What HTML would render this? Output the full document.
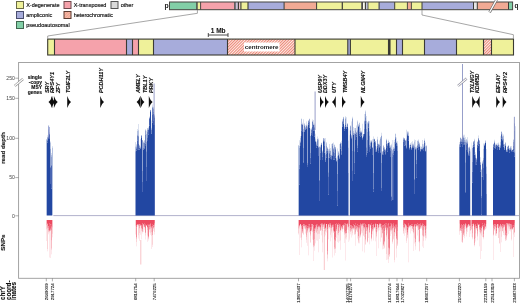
<!DOCTYPE html><html><head><meta charset="utf-8"><style>html,body{margin:0;padding:0;background:#fff;width:520px;height:303px;overflow:hidden}</style></head><body><svg xmlns="http://www.w3.org/2000/svg" width="520" height="303" viewBox="0 0 520 303" style="display:block;font-family:'Liberation Sans', sans-serif"><defs><filter id="bl" x="-5%" y="-5%" width="110%" height="110%"><feGaussianBlur stdDeviation="0.35"/></filter><pattern id="hatch" patternUnits="userSpaceOnUse" width="2" height="4" patternTransform="rotate(45)"><rect width="2" height="4" fill="#fdeae6"/><rect width="0.95" height="4" fill="#ec8472"/></pattern></defs><rect width="520" height="303" fill="#fff"/><filter id="gbl" x="0" y="0" width="100%" height="100%"><feGaussianBlur stdDeviation="0.35"/></filter><g filter="url(#gbl)"><rect width="520" height="303" fill="#fff"/><rect x="16.5" y="1.5" width="7" height="7" fill="#eff19a" stroke="#6b6b45" stroke-width="1"/><text x="26.2" y="7.0" font-size="5.5" fill="#1a1a1a" stroke="#1a1a1a" stroke-width="0.18">X-degenerate</text><rect x="16.5" y="11.5" width="7" height="7" fill="#a7acdb" stroke="#4a4d6e" stroke-width="1"/><text x="26.2" y="17.0" font-size="5.5" fill="#1a1a1a" stroke="#1a1a1a" stroke-width="0.18">ampliconic</text><rect x="16.5" y="21.5" width="7" height="7" fill="#82cfa7" stroke="#3f6650" stroke-width="1"/><text x="26.2" y="27.0" font-size="5.5" fill="#1a1a1a" stroke="#1a1a1a" stroke-width="0.18">pseudoautosomal</text><rect x="64" y="1.5" width="7" height="7" fill="#f5a2ab" stroke="#6e4a4e" stroke-width="1"/><text x="73.7" y="7.0" font-size="5.5" fill="#1a1a1a" stroke="#1a1a1a" stroke-width="0.18">X-transposed</text><rect x="64" y="11.5" width="7" height="7" fill="#f1aa94"/><rect x="64" y="11.5" width="7" height="7" fill="url(#hatch)" fill-opacity="0.3" stroke="#5a3a30" stroke-width="1"/><text x="73.7" y="17.0" font-size="5.5" fill="#1a1a1a" stroke="#1a1a1a" stroke-width="0.18">heterochromatic</text><rect x="111" y="1.5" width="7" height="7" fill="#dadada" stroke="#555" stroke-width="1"/><text x="120.7" y="7.0" font-size="5.5" fill="#1a1a1a" stroke="#1a1a1a" stroke-width="0.18">other</text><rect x="169.5" y="2.0" width="27.30" height="7.70" fill="#82cfa7"/><rect x="196.8" y="2.0" width="0.80" height="7.70" fill="#3a3a34"/><rect x="197.6" y="2.0" width="3.00" height="7.70" fill="#eff19a"/><rect x="200.6" y="2.0" width="33.80" height="7.70" fill="#f5a2ab"/><rect x="234.4" y="2.0" width="3.40" height="7.70" fill="#c8c0d8"/><rect x="237.8" y="2.0" width="2.60" height="7.70" fill="#ecc0c8"/><rect x="240.4" y="2.0" width="7.60" height="7.70" fill="#eff19a"/><rect x="248" y="2.0" width="36.10" height="7.70" fill="#a7acdb"/><rect x="284.1" y="2.0" width="32.50" height="7.70" fill="#f1aa94"/><rect x="316.6" y="2.0" width="25.70" height="7.70" fill="#eff19a"/><rect x="342.3" y="2.0" width="19.00" height="7.70" fill="#eff19a"/><rect x="361.3" y="2.0" width="4.10" height="7.70" fill="#fafaf0"/><rect x="365.4" y="2.0" width="2.60" height="7.70" fill="#c0c4d8"/><rect x="368.0" y="2.0" width="10.80" height="7.70" fill="#eff19a"/><rect x="378.8" y="2.0" width="15.70" height="7.70" fill="#a7acdb"/><rect x="394.5" y="2.0" width="12.90" height="7.70" fill="#eff19a"/><rect x="407.4" y="2.0" width="4.00" height="7.70" fill="#f1aa94"/><rect x="411.4" y="2.0" width="10.60" height="7.70" fill="#eff19a"/><rect x="422" y="2.0" width="51.50" height="7.70" fill="#a7acdb"/><rect x="473.5" y="2.0" width="3.80" height="7.70" fill="#e6e6e6"/><rect x="477.3" y="2.0" width="31.20" height="7.70" fill="#f1aa94"/><rect x="508.5" y="2.0" width="4.00" height="7.70" fill="#82cfa7"/><line x1="196.9" y1="2.0" x2="196.9" y2="9.7" stroke="#3a3a34" stroke-width="1.1"/><line x1="200.6" y1="2.0" x2="200.6" y2="9.7" stroke="#3a3a34" stroke-width="0.9"/><line x1="234.9" y1="2.0" x2="234.9" y2="9.7" stroke="#3a3a34" stroke-width="1.3"/><line x1="238.4" y1="2.0" x2="238.4" y2="9.7" stroke="#3a3a34" stroke-width="1.2"/><line x1="240.9" y1="2.0" x2="240.9" y2="9.7" stroke="#3a3a34" stroke-width="1.1"/><line x1="248" y1="2.0" x2="248" y2="9.7" stroke="#3a3a34" stroke-width="1.1"/><line x1="284.1" y1="2.0" x2="284.1" y2="9.7" stroke="#3a3a34" stroke-width="1"/><line x1="316.6" y1="2.0" x2="316.6" y2="9.7" stroke="#3a3a34" stroke-width="1"/><line x1="342.3" y1="2.0" x2="342.3" y2="9.7" stroke="#3a3a34" stroke-width="1.2"/><line x1="362.1" y1="2.0" x2="362.1" y2="9.7" stroke="#3a3a34" stroke-width="1.6"/><line x1="365.4" y1="2.0" x2="365.4" y2="9.7" stroke="#3a3a34" stroke-width="1.1"/><line x1="368.0" y1="2.0" x2="368.0" y2="9.7" stroke="#3a3a34" stroke-width="0.8"/><line x1="379.1" y1="2.0" x2="379.1" y2="9.7" stroke="#3a3a34" stroke-width="1.0"/><line x1="394.7" y1="2.0" x2="394.7" y2="9.7" stroke="#3a3a34" stroke-width="1.0"/><line x1="407.4" y1="2.0" x2="407.4" y2="9.7" stroke="#3a3a34" stroke-width="0.9"/><line x1="411.4" y1="2.0" x2="411.4" y2="9.7" stroke="#3a3a34" stroke-width="0.9"/><line x1="422" y1="2.0" x2="422" y2="9.7" stroke="#3a3a34" stroke-width="1"/><line x1="473.5" y1="2.0" x2="473.5" y2="9.7" stroke="#3a3a34" stroke-width="1"/><line x1="477.3" y1="2.0" x2="477.3" y2="9.7" stroke="#3a3a34" stroke-width="1"/><line x1="508.5" y1="2.0" x2="508.5" y2="9.7" stroke="#3a3a34" stroke-width="1"/><rect x="169.5" y="2.0" width="343.1" height="7.70" fill="none" stroke="#454540" stroke-width="1"/><path d="M489.6,12.3 L496.6,-0.4" stroke="#666" stroke-width="2.6"/><path d="M489.6,12.3 L496.6,-0.4" stroke="#fff" stroke-width="1.3"/><text x="164.6" y="8.0" font-size="6.8" font-weight="bold" fill="#222">p</text><text x="514.5" y="7.9" font-size="6.4" font-weight="bold" fill="#222">q</text><polyline points="197.4,10 197.4,13.3 47.7,36 47.7,38.5" fill="none" stroke="#8a8a8a" stroke-width="0.75"/><polyline points="422,10 422,15 513.4,34.7 513.4,38.5" fill="none" stroke="#8a8a8a" stroke-width="0.75"/><rect x="47.7" y="39.1" width="6.80" height="15.90" fill="#eff19a"/><rect x="54.5" y="39.1" width="72.00" height="15.90" fill="#f5a2ab"/><rect x="126.5" y="39.1" width="6.00" height="15.90" fill="#a7acdb"/><rect x="132.5" y="39.1" width="6.00" height="15.90" fill="#f5a2ab"/><rect x="138.5" y="39.1" width="15.00" height="15.90" fill="#eff19a"/><rect x="153.5" y="39.1" width="74.00" height="15.90" fill="#a7acdb"/><rect x="227.5" y="39.1" width="67.50" height="15.90" fill="url(#hatch)"/><rect x="295" y="39.1" width="52.80" height="15.90" fill="#eff19a"/><rect x="347.8" y="39.1" width="2.60" height="15.90" fill="#a7acdb"/><rect x="350.4" y="39.1" width="38.10" height="15.90" fill="#eff19a"/><rect x="388.5" y="39.1" width="1.50" height="15.90" fill="#3a3a34"/><rect x="390" y="39.1" width="6.50" height="15.90" fill="#eff19a"/><rect x="396.5" y="39.1" width="6.00" height="15.90" fill="#a7acdb"/><rect x="402.5" y="39.1" width="22.00" height="15.90" fill="#eff19a"/><rect x="424.5" y="39.1" width="32.00" height="15.90" fill="#a7acdb"/><rect x="456.5" y="39.1" width="27.00" height="15.90" fill="#eff19a"/><rect x="483.5" y="39.1" width="8.00" height="15.90" fill="url(#hatch)"/><rect x="491.5" y="39.1" width="22.00" height="15.90" fill="#eff19a"/><line x1="54.5" y1="39.1" x2="54.5" y2="55.0" stroke="#3a3a34" stroke-width="1.1"/><line x1="126.5" y1="39.1" x2="126.5" y2="55.0" stroke="#3a3a34" stroke-width="1.1"/><line x1="132.5" y1="39.1" x2="132.5" y2="55.0" stroke="#3a3a34" stroke-width="1.1"/><line x1="138.5" y1="39.1" x2="138.5" y2="55.0" stroke="#3a3a34" stroke-width="1.1"/><line x1="153.5" y1="39.1" x2="153.5" y2="55.0" stroke="#3a3a34" stroke-width="1.1"/><line x1="227.5" y1="39.1" x2="227.5" y2="55.0" stroke="#3a3a34" stroke-width="1.1"/><line x1="295" y1="39.1" x2="295" y2="55.0" stroke="#3a3a34" stroke-width="1.1"/><line x1="347.8" y1="39.1" x2="347.8" y2="55.0" stroke="#3a3a34" stroke-width="1.1"/><line x1="350.4" y1="39.1" x2="350.4" y2="55.0" stroke="#3a3a34" stroke-width="1.1"/><line x1="388.5" y1="39.1" x2="388.5" y2="55.0" stroke="#3a3a34" stroke-width="1.1"/><line x1="390" y1="39.1" x2="390" y2="55.0" stroke="#3a3a34" stroke-width="1.1"/><line x1="396.5" y1="39.1" x2="396.5" y2="55.0" stroke="#3a3a34" stroke-width="1.1"/><line x1="402.5" y1="39.1" x2="402.5" y2="55.0" stroke="#3a3a34" stroke-width="1.1"/><line x1="424.5" y1="39.1" x2="424.5" y2="55.0" stroke="#3a3a34" stroke-width="1.1"/><line x1="456.5" y1="39.1" x2="456.5" y2="55.0" stroke="#3a3a34" stroke-width="1.1"/><line x1="483.5" y1="39.1" x2="483.5" y2="55.0" stroke="#3a3a34" stroke-width="1.1"/><line x1="491.5" y1="39.1" x2="491.5" y2="55.0" stroke="#3a3a34" stroke-width="1.1"/><rect x="47.7" y="39.1" width="465.8" height="15.90" fill="none" stroke="#3a3a30" stroke-width="1.1"/><rect x="244" y="42.5" width="35.5" height="9" fill="#fff"/><text x="261.7" y="49.4" font-size="6.2" font-weight="bold" text-anchor="middle" fill="#222">centromere</text><path d="M208.3,35 H228 M208.3,33 V37 M228,33 V37" stroke="#222" stroke-width="0.8" fill="none"/><text x="218.2" y="32.9" font-size="6.5" font-weight="bold" text-anchor="middle" fill="#1a1a1a" stroke="#1a1a1a" stroke-width="0.1">1 Mb</text><rect x="18.6" y="62.5" width="500.9" height="215.8" fill="none" stroke="#9a9a9a" stroke-width="0.9"/><line x1="15.3" y1="78.2" x2="18.6" y2="78.2" stroke="#777" stroke-width="0.6"/><text x="14.8" y="80.0" font-size="5.1" text-anchor="end" fill="#444">250</text><line x1="15.3" y1="98.3" x2="18.6" y2="98.3" stroke="#777" stroke-width="0.6"/><text x="14.8" y="100.1" font-size="5.1" text-anchor="end" fill="#444">150</text><line x1="15.3" y1="138.3" x2="18.6" y2="138.3" stroke="#777" stroke-width="0.6"/><text x="14.8" y="140.10000000000002" font-size="5.1" text-anchor="end" fill="#444">100</text><line x1="15.3" y1="177.6" x2="18.6" y2="177.6" stroke="#777" stroke-width="0.6"/><text x="14.8" y="179.4" font-size="5.1" text-anchor="end" fill="#444">50</text><line x1="15.3" y1="215.8" x2="18.6" y2="215.8" stroke="#777" stroke-width="0.6"/><text x="14.8" y="217.60000000000002" font-size="5.1" text-anchor="end" fill="#444">0</text><path d="M14.8,85.8 L23,79" stroke="#888" stroke-width="2.4"/><path d="M14.8,85.8 L23,79" stroke="#fff" stroke-width="1.2"/><text transform="translate(5.1,148) rotate(-90)" font-size="6.2" font-weight="bold" text-anchor="middle" fill="#1a1a1a" stroke="#1a1a1a" stroke-width="0.15">read depth</text><text transform="translate(5.1,242.6) rotate(-90)" font-size="6.2" font-weight="bold" text-anchor="middle" fill="#1a1a1a" stroke="#1a1a1a" stroke-width="0.15">SNPs</text><text transform="translate(4.90,300.1) rotate(-90)" font-size="6.3" font-weight="bold" fill="#111" stroke="#111" stroke-width="0.12">chrY</text><text transform="translate(10.65,300.1) rotate(-90)" font-size="6.3" font-weight="bold" fill="#111" stroke="#111" stroke-width="0.12">coord-</text><text transform="translate(16.40,300.1) rotate(-90)" font-size="6.3" font-weight="bold" fill="#111" stroke="#111" stroke-width="0.12">inates</text><text x="42" y="78.8" font-size="4.95" font-weight="bold" text-anchor="end" fill="#111" stroke="#111" stroke-width="0.14">single</text><text x="42" y="84.1" font-size="4.95" font-weight="bold" text-anchor="end" fill="#111" stroke="#111" stroke-width="0.14">-copy</text><text x="42" y="88.9" font-size="4.95" font-weight="bold" text-anchor="end" fill="#111" stroke="#111" stroke-width="0.14">MSY</text><text x="42" y="93.8" font-size="4.95" font-weight="bold" text-anchor="end" fill="#111" stroke="#111" stroke-width="0.14">genes</text><text transform="translate(49.00,93.1) rotate(-90)" font-size="5.5" font-weight="bold" font-style="italic" fill="#111" stroke="#111" stroke-width="0.12">SRY</text><text transform="translate(54.30,93.1) rotate(-90)" font-size="5.5" font-weight="bold" font-style="italic" fill="#111" stroke="#111" stroke-width="0.12">RPS4Y1</text><text transform="translate(59.60,93.1) rotate(-90)" font-size="5.5" font-weight="bold" font-style="italic" fill="#111" stroke="#111" stroke-width="0.12">ZFY</text><text transform="translate(70.10,93.1) rotate(-90)" font-size="5.5" font-weight="bold" font-style="italic" fill="#111" stroke="#111" stroke-width="0.12">TGIF2LY</text><text transform="translate(103.20,93.1) rotate(-90)" font-size="5.5" font-weight="bold" font-style="italic" fill="#111" stroke="#111" stroke-width="0.12">PCDH11Y</text><text transform="translate(139.90,93.1) rotate(-90)" font-size="5.5" font-weight="bold" font-style="italic" fill="#111" stroke="#111" stroke-width="0.12">AMELY</text><text transform="translate(146.60,93.1) rotate(-90)" font-size="5.5" font-weight="bold" font-style="italic" fill="#111" stroke="#111" stroke-width="0.12">TBL1Y</text><text transform="translate(152.60,93.1) rotate(-90)" font-size="5.5" font-weight="bold" font-style="italic" fill="#111" stroke="#111" stroke-width="0.12">PRKY</text><text transform="translate(322.00,93.1) rotate(-90)" font-size="5.5" font-weight="bold" font-style="italic" fill="#111" stroke="#111" stroke-width="0.12">USP9Y</text><text transform="translate(327.40,93.1) rotate(-90)" font-size="5.5" font-weight="bold" font-style="italic" fill="#111" stroke="#111" stroke-width="0.12">DDX3Y</text><text transform="translate(336.30,93.1) rotate(-90)" font-size="5.5" font-weight="bold" font-style="italic" fill="#111" stroke="#111" stroke-width="0.12">UTY</text><text transform="translate(346.70,93.1) rotate(-90)" font-size="5.5" font-weight="bold" font-style="italic" fill="#111" stroke="#111" stroke-width="0.12">TMSB4Y</text><text transform="translate(364.80,93.1) rotate(-90)" font-size="5.5" font-weight="bold" font-style="italic" fill="#111" stroke="#111" stroke-width="0.12">NLGN4Y</text><text transform="translate(474.40,93.1) rotate(-90)" font-size="5.5" font-weight="bold" font-style="italic" fill="#111" stroke="#111" stroke-width="0.12">TXLNGY</text><text transform="translate(479.00,93.1) rotate(-90)" font-size="5.5" font-weight="bold" font-style="italic" fill="#111" stroke="#111" stroke-width="0.12">KDM5D</text><text transform="translate(499.70,93.1) rotate(-90)" font-size="5.5" font-weight="bold" font-style="italic" fill="#111" stroke="#111" stroke-width="0.12">EIF1AY</text><text transform="translate(506.70,93.1) rotate(-90)" font-size="5.5" font-weight="bold" font-style="italic" fill="#111" stroke="#111" stroke-width="0.12">RPS4Y2</text><path d="M52.3,96.1 Q50.97,100.23 48.5,102 Q50.97,103.77 52.3,107.9Z" fill="#111"/><path d="M51.5,96.1 Q52.83,100.23 55.3,102 Q52.83,103.77 51.5,107.9Z" fill="#111"/><path d="M53.9,96.1 Q55.23,100.23 57.699999999999996,102 Q55.23,103.77 53.9,107.9Z" fill="#111"/><path d="M67.2,96.1 Q68.53,100.23 71.0,102 Q68.53,103.77 67.2,107.9Z" fill="#111"/><path d="M100.2,96.1 Q101.53,100.23 104.0,102 Q101.53,103.77 100.2,107.9Z" fill="#111"/><path d="M140.4,96.1 Q139.07,100.23 136.6,102 Q139.07,103.77 140.4,107.9Z" fill="#111"/><path d="M140.6,96.1 Q141.93,100.23 144.4,102 Q141.93,103.77 140.6,107.9Z" fill="#111"/><path d="M148.8,96.1 Q150.13,100.23 152.60000000000002,102 Q150.13,103.77 148.8,107.9Z" fill="#111"/><path d="M320,96.1 Q321.33,100.23 323.8,102 Q321.33,103.77 320,107.9Z" fill="#111"/><path d="M325.0,96.1 Q326.33,100.23 328.8,102 Q326.33,103.77 325.0,107.9Z" fill="#111"/><path d="M335.8,96.1 Q334.47,100.23 332.0,102 Q334.47,103.77 335.8,107.9Z" fill="#111"/><path d="M342,96.1 Q343.33,100.23 345.8,102 Q343.33,103.77 342,107.9Z" fill="#111"/><path d="M360.8,96.1 Q362.13,100.23 364.6,102 Q362.13,103.77 360.8,107.9Z" fill="#111"/><path d="M472.2,96.1 Q473.53,100.23 476.0,102 Q473.53,103.77 472.2,107.9Z" fill="#111"/><path d="M479.6,96.1 Q478.27,100.23 475.8,102 Q478.27,103.77 479.6,107.9Z" fill="#111"/><path d="M496.2,96.1 Q497.53,100.23 500.0,102 Q497.53,103.77 496.2,107.9Z" fill="#111"/><path d="M502.7,96.1 Q504.03,100.23 506.5,102 Q504.03,103.77 502.7,107.9Z" fill="#111"/><line x1="53.3" y1="215.6" x2="519" y2="215.6" stroke="#a9a9c6" stroke-width="0.9"/><g filter="url(#bl)"><path d="M46,139.1h1V139.4h-1zM47,135.3h1V137.2h-1zM48,129.4h1V136.0h-1zM49,132.3h1V133.7h-1zM50,141.6h1V142.4h-1zM51,153.1h1V154.9h-1zM52,146.3h1V147.8h-1zM135,141.9h1V146.5h-1zM136,143.9h1V145.3h-1zM137,129.1h1V131.0h-1zM138,124.0h1V130.3h-1zM139,144.8h1V145.3h-1zM140,139.1h1V146.4h-1zM141,134.9h1V134.9h-1zM142,139.9h1V140.1h-1zM143,141.5h1V142.3h-1zM144,140.0h1V140.6h-1zM145,129.1h1V130.1h-1zM146,130.7h1V133.9h-1zM147,127.9h1V128.3h-1zM148,126.7h1V128.2h-1zM149,116.6h1V117.2h-1zM150,109.8h1V109.9h-1zM151,120.6h1V127.7h-1zM152,104.6h1V106.5h-1zM153,107.0h1V108.2h-1zM154,114.2h1V114.9h-1zM298,145.0h1V145.4h-1zM299,140.2h1V145.9h-1zM300,135.9h1V137.9h-1zM301,118.4h1V119.1h-1zM302,122.7h1V124.2h-1zM303,119.3h1V128.9h-1zM304,123.3h1V123.8h-1zM305,125.3h1V127.0h-1zM306,121.6h1V124.8h-1zM307,124.5h1V126.2h-1zM308,119.9h1V120.6h-1zM309,118.7h1V118.7h-1zM310,128.8h1V135.8h-1zM311,127.8h1V128.8h-1zM312,119.4h1V121.1h-1zM313,120.1h1V123.5h-1zM314,123.6h1V125.1h-1zM315,133.7h1V138.5h-1zM316,141.5h1V142.3h-1zM317,136.5h1V138.7h-1zM318,138.5h1V139.6h-1zM319,145.9h1V146.9h-1zM320,144.8h1V146.5h-1zM321,142.6h1V143.0h-1zM322,150.3h1V151.1h-1zM323,137.9h1V138.3h-1zM324,138.5h1V138.5h-1zM325,138.1h1V152.5h-1zM326,142.1h1V143.3h-1zM327,147.1h1V147.7h-1zM328,149.1h1V150.6h-1zM329,144.0h1V148.7h-1zM330,147.9h1V150.6h-1zM331,144.0h1V154.7h-1zM332,143.1h1V143.4h-1zM333,142.4h1V147.9h-1zM334,144.4h1V145.1h-1zM335,146.8h1V147.1h-1zM336,157.4h1V158.4h-1zM337,148.6h1V155.9h-1zM338,151.1h1V151.7h-1zM339,144.1h1V153.5h-1zM340,142.1h1V142.8h-1zM341,140.8h1V143.0h-1zM342,119.3h1V120.4h-1zM343,116.7h1V117.0h-1zM344,125.8h1V126.8h-1zM345,116.2h1V117.5h-1zM346,117.2h1V126.6h-1zM347,123.0h1V123.8h-1zM348,128.6h1V140.4h-1zM349,130.6h1V135.3h-1zM350,125.5h1V125.8h-1zM351,121.5h1V135.0h-1zM352,116.7h1V118.0h-1zM353,126.9h1V131.0h-1zM354,127.9h1V132.7h-1zM355,127.9h1V128.1h-1zM356,125.4h1V131.7h-1zM357,120.4h1V121.5h-1zM358,124.0h1V124.7h-1zM359,122.4h1V123.0h-1zM360,128.1h1V130.8h-1zM361,130.6h1V131.4h-1zM362,123.7h1V137.2h-1zM363,133.9h1V134.1h-1zM364,114.1h1V120.6h-1zM365,110.4h1V111.5h-1zM366,116.0h1V120.7h-1zM367,122.0h1V123.2h-1zM368,120.7h1V121.0h-1zM369,121.3h1V131.3h-1zM370,140.3h1V141.5h-1zM371,140.3h1V140.4h-1zM372,139.3h1V147.0h-1zM373,136.6h1V139.1h-1zM374,138.6h1V138.9h-1zM375,140.9h1V141.0h-1zM376,146.6h1V149.0h-1zM377,136.8h1V139.6h-1zM379,140.4h1V143.7h-1zM380,136.9h1V137.6h-1zM381,132.7h1V135.6h-1zM382,150.9h1V151.4h-1zM383,145.3h1V145.4h-1zM385,149.4h1V149.5h-1zM386,138.8h1V139.6h-1zM387,143.0h1V143.5h-1zM388,139.7h1V141.1h-1zM389,141.9h1V142.0h-1zM390,145.0h1V146.2h-1zM391,143.7h1V145.3h-1zM392,149.5h1V150.0h-1zM393,146.9h1V147.5h-1zM394,140.0h1V142.0h-1zM395,133.5h1V134.0h-1zM396,137.5h1V141.6h-1zM397,141.2h1V143.5h-1zM403,137.4h1V137.8h-1zM404,137.9h1V138.1h-1zM405,140.1h1V140.5h-1zM406,129.7h1V138.5h-1zM407,131.0h1V132.0h-1zM408,131.6h1V132.6h-1zM409,144.8h1V147.2h-1zM410,143.0h1V144.6h-1zM411,142.2h1V147.5h-1zM412,141.3h1V143.8h-1zM413,143.6h1V144.2h-1zM414,139.5h1V141.5h-1zM415,140.0h1V147.0h-1zM416,146.6h1V147.5h-1zM417,140.5h1V141.1h-1zM418,139.4h1V140.5h-1zM419,142.5h1V143.2h-1zM420,146.3h1V148.5h-1zM421,146.5h1V147.0h-1zM422,140.0h1V144.0h-1zM423,144.1h1V145.6h-1zM424,138.6h1V140.0h-1zM425,142.4h1V145.9h-1zM426,145.5h1V145.6h-1zM459,142.0h1V144.1h-1zM460,137.5h1V137.8h-1zM461,138.5h1V138.9h-1zM462,136.3h1V137.8h-1zM463,134.7h1V136.2h-1zM464,134.8h1V138.0h-1zM465,137.2h1V140.3h-1zM466,138.9h1V139.6h-1zM467,137.3h1V140.5h-1zM468,147.3h1V147.7h-1zM470,149.2h1V151.4h-1zM471,142.4h1V215.6h-1zM472,145.4h1V147.8h-1zM473,141.0h1V141.2h-1zM474,138.8h1V139.7h-1zM475,152.2h1V154.4h-1zM476,158.2h1V158.3h-1zM477,141.2h1V141.5h-1zM478,135.4h1V137.9h-1zM479,140.1h1V140.6h-1zM480,157.2h1V162.2h-1zM481,168.9h1V170.1h-1zM482,160.7h1V161.7h-1zM483,143.5h1V148.7h-1zM484,143.2h1V144.2h-1zM485,140.4h1V140.4h-1zM486,149.1h1V166.6h-1zM493,143.8h1V143.8h-1zM494,139.8h1V141.5h-1zM495,143.7h1V144.8h-1zM496,143.6h1V144.4h-1zM497,143.3h1V144.9h-1zM498,142.4h1V143.5h-1zM499,144.7h1V147.1h-1zM500,136.3h1V141.7h-1zM501,130.9h1V131.9h-1zM502,133.6h1V135.8h-1zM503,134.4h1V135.7h-1zM504,144.1h1V144.2h-1zM505,142.1h1V142.7h-1zM506,149.5h1V150.0h-1zM507,146.4h1V146.5h-1zM508,145.3h1V145.4h-1zM509,147.9h1V148.3h-1zM510,146.1h1V146.8h-1zM511,145.9h1V148.3h-1zM512,149.7h1V149.8h-1zM513,139.5h1V139.8h-1zM514,123.0h1V123.7h-1zM515,126.3h1V215.6h-1z" fill="#2346a2" fill-opacity="0.167"/><path d="M46,139.4h1V215.6h-1zM48,136.0h1V136.9h-1zM49,133.7h1V133.9h-1zM50,142.4h1V148.7h-1zM51,154.9h1V156.4h-1zM52,147.8h1V215.6h-1zM135,146.5h1V151.2h-1zM136,145.3h1V146.8h-1zM137,131.0h1V134.7h-1zM138,130.3h1V135.6h-1zM139,145.3h1V145.9h-1zM140,146.4h1V147.5h-1zM141,134.9h1V136.0h-1zM142,140.1h1V140.3h-1zM143,142.3h1V142.7h-1zM144,140.6h1V142.4h-1zM145,130.1h1V130.6h-1zM146,133.9h1V141.8h-1zM147,128.3h1V129.9h-1zM148,128.2h1V128.6h-1zM149,117.2h1V117.8h-1zM150,109.9h1V110.2h-1zM151,127.7h1V129.3h-1zM152,106.5h1V107.3h-1zM153,108.2h1V109.0h-1zM154,114.9h1V116.1h-1zM298,145.4h1V215.6h-1zM299,145.9h1V148.0h-1zM300,137.9h1V141.3h-1zM301,119.1h1V124.1h-1zM302,124.2h1V124.3h-1zM303,128.9h1V131.6h-1zM304,123.8h1V125.3h-1zM305,127.0h1V127.5h-1zM306,124.8h1V125.6h-1zM307,126.2h1V127.3h-1zM308,120.6h1V121.0h-1zM309,118.7h1V119.3h-1zM310,135.8h1V136.0h-1zM311,128.8h1V129.5h-1zM312,121.1h1V121.4h-1zM313,123.5h1V124.4h-1zM314,125.1h1V127.0h-1zM315,138.5h1V140.6h-1zM316,142.3h1V143.6h-1zM317,138.7h1V138.9h-1zM318,139.6h1V146.4h-1zM319,146.9h1V147.1h-1zM320,146.5h1V146.8h-1zM321,143.0h1V143.2h-1zM322,151.1h1V152.1h-1zM324,138.5h1V140.8h-1zM325,152.5h1V155.1h-1zM326,143.3h1V146.0h-1zM327,147.7h1V148.2h-1zM328,150.6h1V157.6h-1zM329,148.7h1V150.8h-1zM330,150.6h1V151.1h-1zM331,154.7h1V155.5h-1zM332,143.4h1V144.0h-1zM333,147.9h1V148.4h-1zM334,145.1h1V146.7h-1zM335,147.1h1V147.6h-1zM336,158.4h1V160.2h-1zM337,155.9h1V160.0h-1zM338,151.7h1V152.8h-1zM339,153.5h1V156.4h-1zM340,142.8h1V142.9h-1zM341,143.0h1V146.2h-1zM342,120.4h1V121.5h-1zM343,117.0h1V118.2h-1zM344,126.8h1V128.4h-1zM345,117.5h1V118.9h-1zM346,126.6h1V126.7h-1zM348,140.4h1V147.5h-1zM349,135.3h1V215.6h-1zM350,125.8h1V126.3h-1zM351,135.0h1V135.4h-1zM352,118.0h1V119.0h-1zM353,131.0h1V133.0h-1zM354,132.7h1V133.5h-1zM355,128.1h1V130.3h-1zM356,131.7h1V132.5h-1zM357,121.5h1V130.3h-1zM358,124.7h1V125.9h-1zM359,123.0h1V124.8h-1zM360,130.8h1V131.5h-1zM361,131.4h1V132.1h-1zM362,137.2h1V137.7h-1zM363,134.1h1V134.3h-1zM364,120.6h1V121.3h-1zM365,111.5h1V113.8h-1zM366,120.7h1V129.0h-1zM367,123.2h1V132.0h-1zM368,121.0h1V122.0h-1zM369,131.3h1V135.5h-1zM370,141.5h1V143.1h-1zM371,140.4h1V141.2h-1zM372,147.0h1V147.4h-1zM373,139.1h1V143.1h-1zM375,141.0h1V141.7h-1zM376,149.0h1V150.3h-1zM378,143.7h1V144.3h-1zM379,143.7h1V145.1h-1zM380,137.6h1V138.9h-1zM381,135.6h1V136.1h-1zM382,151.4h1V152.2h-1zM383,145.4h1V146.3h-1zM384,147.3h1V148.4h-1zM385,149.5h1V149.6h-1zM386,139.6h1V140.0h-1zM388,141.1h1V142.6h-1zM389,142.0h1V142.7h-1zM390,146.2h1V147.0h-1zM391,145.3h1V148.9h-1zM392,150.0h1V150.4h-1zM393,147.5h1V148.9h-1zM394,142.0h1V147.8h-1zM395,134.0h1V137.0h-1zM396,141.6h1V142.3h-1zM397,143.5h1V145.5h-1zM403,137.8h1V138.4h-1zM404,138.1h1V138.7h-1zM406,138.5h1V140.3h-1zM407,132.0h1V132.6h-1zM408,132.6h1V135.4h-1zM409,147.2h1V148.0h-1zM410,144.6h1V144.7h-1zM411,147.5h1V147.9h-1zM412,143.8h1V144.4h-1zM413,144.2h1V144.9h-1zM414,141.5h1V146.3h-1zM415,147.0h1V147.6h-1zM416,147.5h1V148.5h-1zM417,141.1h1V144.9h-1zM418,140.5h1V141.6h-1zM419,143.2h1V143.8h-1zM420,148.5h1V149.1h-1zM421,147.0h1V149.0h-1zM422,144.0h1V148.3h-1zM423,145.6h1V147.1h-1zM424,140.0h1V140.9h-1zM425,145.9h1V150.6h-1zM426,145.6h1V146.2h-1zM459,144.1h1V144.6h-1zM460,137.8h1V138.1h-1zM461,138.9h1V139.2h-1zM462,137.8h1V139.2h-1zM463,136.2h1V137.2h-1zM464,138.0h1V140.1h-1zM465,140.3h1V141.9h-1zM466,139.6h1V142.3h-1zM467,140.5h1V142.3h-1zM468,147.7h1V152.6h-1zM469,146.8h1V147.6h-1zM470,151.4h1V215.6h-1zM472,147.8h1V147.9h-1zM473,141.2h1V141.7h-1zM474,139.7h1V140.9h-1zM475,154.4h1V154.5h-1zM476,158.3h1V158.7h-1zM477,141.5h1V142.0h-1zM478,137.9h1V138.1h-1zM479,140.6h1V140.8h-1zM480,162.2h1V162.3h-1zM481,170.1h1V177.0h-1zM482,161.7h1V163.2h-1zM483,148.7h1V158.1h-1zM484,144.2h1V144.5h-1zM485,140.4h1V141.6h-1zM486,166.6h1V173.4h-1zM493,143.8h1V144.2h-1zM495,144.8h1V145.3h-1zM496,144.4h1V144.7h-1zM497,144.9h1V145.5h-1zM498,143.5h1V144.6h-1zM499,147.1h1V147.3h-1zM500,141.7h1V145.1h-1zM501,131.9h1V132.1h-1zM502,135.8h1V136.8h-1zM503,135.7h1V138.8h-1zM504,144.2h1V147.8h-1zM505,142.7h1V143.3h-1zM506,150.0h1V150.3h-1zM507,146.5h1V146.9h-1zM508,145.4h1V145.7h-1zM509,148.3h1V149.3h-1zM510,146.8h1V147.7h-1zM511,148.3h1V149.4h-1zM513,139.8h1V142.1h-1zM514,123.7h1V131.1h-1z" fill="#2346a2" fill-opacity="0.333"/><path d="M47,137.2h1V140.1h-1zM48,136.9h1V137.3h-1zM49,133.9h1V134.3h-1zM50,148.7h1V166.8h-1zM51,156.4h1V164.7h-1zM135,151.2h1V215.6h-1zM136,146.8h1V147.5h-1zM137,134.7h1V135.7h-1zM138,135.6h1V136.2h-1zM139,145.9h1V147.3h-1zM140,147.5h1V147.7h-1zM141,136.0h1V136.1h-1zM142,140.3h1V170.5h-1zM143,142.7h1V147.6h-1zM144,142.4h1V143.1h-1zM145,130.6h1V134.5h-1zM146,141.8h1V151.3h-1zM147,129.9h1V131.6h-1zM148,128.6h1V129.7h-1zM149,117.8h1V118.0h-1zM150,110.2h1V110.5h-1zM151,129.3h1V129.8h-1zM152,107.3h1V107.6h-1zM153,109.0h1V111.6h-1zM154,116.1h1V116.8h-1zM299,148.0h1V165.1h-1zM300,141.3h1V142.0h-1zM301,124.1h1V124.2h-1zM302,124.3h1V124.7h-1zM303,131.6h1V147.9h-1zM304,125.3h1V125.5h-1zM305,127.5h1V128.5h-1zM306,125.6h1V125.9h-1zM307,127.3h1V162.5h-1zM308,121.0h1V121.2h-1zM309,119.3h1V121.9h-1zM310,136.0h1V152.5h-1zM311,129.5h1V129.7h-1zM312,121.4h1V122.0h-1zM313,124.4h1V125.0h-1zM314,127.0h1V127.6h-1zM315,140.6h1V141.1h-1zM316,143.6h1V144.7h-1zM317,138.9h1V140.3h-1zM318,146.4h1V146.9h-1zM319,147.1h1V179.7h-1zM320,146.8h1V147.5h-1zM321,143.2h1V143.4h-1zM322,152.1h1V153.0h-1zM323,138.3h1V139.8h-1zM324,140.8h1V141.6h-1zM325,155.1h1V159.9h-1zM326,146.0h1V150.5h-1zM327,148.2h1V148.6h-1zM328,157.6h1V172.2h-1zM329,150.8h1V152.4h-1zM330,151.1h1V154.7h-1zM331,155.5h1V155.6h-1zM332,144.0h1V145.4h-1zM333,148.4h1V149.2h-1zM334,146.7h1V152.7h-1zM335,147.6h1V148.9h-1zM336,160.2h1V160.9h-1zM337,160.0h1V173.8h-1zM338,152.8h1V154.4h-1zM339,156.4h1V157.9h-1zM340,142.9h1V143.8h-1zM341,146.2h1V150.7h-1zM342,121.5h1V121.6h-1zM343,118.2h1V118.5h-1zM344,128.4h1V128.7h-1zM345,118.9h1V123.2h-1zM346,126.7h1V127.0h-1zM347,123.8h1V124.2h-1zM348,147.5h1V172.5h-1zM350,126.3h1V129.8h-1zM351,135.4h1V136.4h-1zM352,119.0h1V151.0h-1zM353,133.0h1V134.2h-1zM354,133.5h1V151.3h-1zM355,130.3h1V133.6h-1zM357,130.3h1V145.2h-1zM358,125.9h1V126.3h-1zM359,124.8h1V131.4h-1zM360,131.5h1V131.9h-1zM361,132.1h1V132.5h-1zM363,134.3h1V134.3h-1zM364,121.3h1V128.5h-1zM365,113.8h1V117.3h-1zM366,129.0h1V147.3h-1zM367,132.0h1V139.5h-1zM368,122.0h1V122.8h-1zM369,135.5h1V145.1h-1zM370,143.1h1V145.6h-1zM371,141.2h1V141.6h-1zM373,143.1h1V172.7h-1zM374,138.9h1V139.0h-1zM375,141.7h1V143.0h-1zM376,150.3h1V150.5h-1zM377,139.6h1V144.1h-1zM378,144.3h1V144.5h-1zM379,145.1h1V145.2h-1zM380,138.9h1V145.7h-1zM381,136.1h1V163.0h-1zM382,152.2h1V153.7h-1zM383,146.3h1V147.5h-1zM384,148.4h1V149.3h-1zM385,149.6h1V150.9h-1zM386,140.0h1V140.5h-1zM387,143.6h1V144.5h-1zM388,142.6h1V142.8h-1zM389,142.7h1V145.2h-1zM390,147.0h1V147.8h-1zM391,148.9h1V195.5h-1zM392,150.4h1V152.9h-1zM394,147.8h1V148.5h-1zM395,137.0h1V137.9h-1zM396,142.3h1V143.0h-1zM397,145.5h1V151.0h-1zM403,138.4h1V139.9h-1zM404,138.7h1V139.1h-1zM405,140.5h1V140.8h-1zM406,140.3h1V146.4h-1zM407,132.6h1V133.6h-1zM408,135.4h1V135.7h-1zM409,148.0h1V148.1h-1zM411,147.9h1V149.0h-1zM412,144.4h1V145.9h-1zM413,144.9h1V145.8h-1zM414,146.3h1V178.5h-1zM415,147.6h1V149.0h-1zM416,148.5h1V160.1h-1zM417,144.9h1V146.1h-1zM418,141.6h1V143.4h-1zM419,143.8h1V144.7h-1zM420,149.1h1V151.1h-1zM422,148.3h1V148.5h-1zM423,147.1h1V147.9h-1zM424,140.9h1V141.1h-1zM425,150.6h1V150.8h-1zM426,146.2h1V215.6h-1zM459,144.6h1V146.9h-1zM460,138.1h1V140.8h-1zM461,139.2h1V141.3h-1zM462,139.2h1V139.8h-1zM463,137.2h1V137.9h-1zM464,140.1h1V141.5h-1zM465,141.9h1V162.2h-1zM466,142.3h1V142.5h-1zM467,142.3h1V142.6h-1zM468,152.6h1V153.4h-1zM469,147.6h1V148.2h-1zM472,147.9h1V161.8h-1zM473,141.7h1V142.3h-1zM474,140.9h1V143.5h-1zM475,154.5h1V156.3h-1zM476,158.7h1V159.8h-1zM477,142.0h1V144.4h-1zM478,138.1h1V138.7h-1zM479,140.8h1V143.4h-1zM480,162.3h1V164.5h-1zM481,177.0h1V196.1h-1zM482,163.2h1V163.5h-1zM483,158.1h1V159.9h-1zM484,144.5h1V144.8h-1zM485,141.6h1V142.6h-1zM486,173.4h1V194.0h-1zM493,144.2h1V144.6h-1zM494,141.5h1V142.6h-1zM495,145.3h1V146.3h-1zM496,144.7h1V144.8h-1zM498,144.6h1V145.1h-1zM499,147.3h1V149.7h-1zM500,145.1h1V145.8h-1zM501,132.1h1V133.4h-1zM502,136.8h1V139.1h-1zM503,138.8h1V143.6h-1zM504,147.8h1V148.3h-1zM505,143.3h1V145.1h-1zM506,150.3h1V150.4h-1zM507,146.9h1V148.6h-1zM508,145.7h1V145.9h-1zM509,149.3h1V149.8h-1zM510,147.7h1V148.3h-1zM511,149.4h1V150.9h-1zM512,149.8h1V150.1h-1zM513,142.1h1V145.4h-1zM514,131.1h1V151.2h-1z" fill="#2346a2" fill-opacity="0.500"/><path d="M47,140.1h1V140.6h-1zM48,137.3h1V138.1h-1zM49,134.3h1V134.4h-1zM50,166.8h1V167.9h-1zM51,164.7h1V165.5h-1zM136,147.5h1V148.6h-1zM137,135.7h1V140.6h-1zM138,136.2h1V144.0h-1zM139,147.3h1V147.7h-1zM140,147.7h1V148.2h-1zM141,136.1h1V136.2h-1zM142,170.5h1V181.9h-1zM143,147.6h1V149.5h-1zM144,143.1h1V147.8h-1zM145,134.5h1V143.6h-1zM146,151.3h1V167.0h-1zM147,131.6h1V137.3h-1zM148,129.7h1V130.0h-1zM149,118.0h1V118.5h-1zM150,110.5h1V110.6h-1zM151,129.8h1V133.5h-1zM152,107.6h1V114.3h-1zM153,111.6h1V113.4h-1zM154,116.8h1V117.5h-1zM299,165.1h1V168.5h-1zM300,142.0h1V142.5h-1zM301,124.2h1V130.6h-1zM302,124.7h1V124.8h-1zM303,147.9h1V161.7h-1zM304,125.5h1V131.3h-1zM305,128.5h1V129.4h-1zM306,125.9h1V127.3h-1zM307,162.5h1V165.1h-1zM308,121.2h1V122.4h-1zM309,121.9h1V127.8h-1zM310,152.5h1V157.8h-1zM311,129.7h1V132.4h-1zM312,122.0h1V127.0h-1zM314,127.6h1V130.7h-1zM315,141.1h1V141.9h-1zM316,144.7h1V145.9h-1zM317,140.3h1V145.8h-1zM318,146.9h1V147.4h-1zM319,179.7h1V181.1h-1zM320,147.5h1V152.6h-1zM321,143.4h1V144.5h-1zM322,153.0h1V156.8h-1zM323,139.8h1V140.6h-1zM324,141.6h1V146.0h-1zM325,159.9h1V161.2h-1zM326,150.5h1V153.6h-1zM327,148.6h1V150.8h-1zM328,172.2h1V176.2h-1zM329,152.4h1V153.2h-1zM330,154.7h1V156.5h-1zM331,155.6h1V158.2h-1zM332,145.4h1V155.3h-1zM333,149.2h1V151.9h-1zM334,152.7h1V155.9h-1zM335,148.9h1V149.2h-1zM336,160.9h1V161.2h-1zM337,173.8h1V190.9h-1zM338,154.4h1V154.9h-1zM339,157.9h1V158.2h-1zM340,143.8h1V144.0h-1zM341,150.7h1V153.8h-1zM342,121.6h1V126.2h-1zM343,118.5h1V124.0h-1zM344,128.7h1V128.7h-1zM345,123.2h1V124.4h-1zM346,127.0h1V128.2h-1zM347,124.2h1V126.6h-1zM348,172.5h1V215.6h-1zM350,129.8h1V131.0h-1zM351,136.4h1V137.8h-1zM352,151.0h1V170.2h-1zM353,134.2h1V134.8h-1zM354,151.3h1V162.8h-1zM355,133.6h1V133.9h-1zM356,132.6h1V134.4h-1zM357,145.2h1V147.8h-1zM359,131.4h1V133.8h-1zM360,131.9h1V132.7h-1zM361,132.5h1V132.6h-1zM362,137.7h1V138.3h-1zM363,134.3h1V135.6h-1zM364,128.5h1V133.2h-1zM365,117.3h1V120.9h-1zM366,147.3h1V154.5h-1zM367,139.5h1V151.0h-1zM368,122.8h1V123.9h-1zM369,145.1h1V146.2h-1zM370,145.6h1V147.3h-1zM371,141.6h1V141.8h-1zM372,147.4h1V147.9h-1zM373,172.7h1V188.4h-1zM374,139.0h1V139.7h-1zM375,143.0h1V146.1h-1zM376,150.5h1V151.8h-1zM377,144.1h1V145.7h-1zM378,144.5h1V150.2h-1zM379,145.2h1V146.8h-1zM380,145.7h1V151.4h-1zM381,163.0h1V188.1h-1zM382,153.7h1V154.2h-1zM383,147.5h1V150.5h-1zM384,149.3h1V150.1h-1zM385,150.9h1V154.1h-1zM386,140.5h1V143.6h-1zM387,144.5h1V145.8h-1zM388,142.8h1V142.9h-1zM389,145.2h1V146.2h-1zM390,147.8h1V150.3h-1zM391,195.5h1V196.7h-1zM392,152.9h1V154.1h-1zM393,148.9h1V153.1h-1zM394,148.5h1V150.4h-1zM395,137.9h1V138.8h-1zM397,151.0h1V215.6h-1zM403,139.9h1V141.8h-1zM404,139.1h1V139.4h-1zM405,140.8h1V144.5h-1zM406,146.4h1V147.7h-1zM407,133.6h1V134.9h-1zM409,148.1h1V148.5h-1zM410,144.7h1V144.9h-1zM411,149.0h1V149.2h-1zM412,145.9h1V147.0h-1zM413,145.8h1V146.4h-1zM414,178.5h1V180.1h-1zM415,149.0h1V149.0h-1zM416,160.1h1V163.5h-1zM417,146.1h1V148.0h-1zM418,143.4h1V146.3h-1zM419,144.7h1V145.5h-1zM421,149.1h1V149.1h-1zM422,148.5h1V149.1h-1zM423,147.9h1V148.0h-1zM424,141.1h1V142.4h-1zM425,150.8h1V151.0h-1zM459,146.9h1V215.6h-1zM460,140.8h1V141.6h-1zM461,141.3h1V141.5h-1zM462,139.8h1V141.9h-1zM463,137.9h1V141.9h-1zM464,141.5h1V143.7h-1zM465,162.2h1V192.1h-1zM466,142.5h1V144.3h-1zM467,142.6h1V143.6h-1zM468,153.4h1V154.6h-1zM469,148.2h1V150.6h-1zM472,161.8h1V171.6h-1zM473,142.3h1V144.4h-1zM474,143.5h1V146.5h-1zM475,156.3h1V157.4h-1zM476,159.8h1V162.0h-1zM477,144.4h1V144.7h-1zM478,138.7h1V140.0h-1zM479,143.4h1V144.1h-1zM480,164.5h1V164.7h-1zM481,196.1h1V197.9h-1zM482,163.5h1V163.6h-1zM483,159.9h1V168.0h-1zM484,144.8h1V145.2h-1zM485,142.6h1V143.0h-1zM486,194.0h1V215.6h-1zM493,144.6h1V146.6h-1zM494,142.6h1V142.7h-1zM495,146.3h1V147.6h-1zM496,144.8h1V144.8h-1zM497,145.5h1V145.8h-1zM498,145.1h1V146.3h-1zM499,149.7h1V149.8h-1zM500,145.8h1V146.7h-1zM501,133.4h1V134.3h-1zM502,139.1h1V139.8h-1zM503,143.6h1V144.9h-1zM504,148.3h1V149.5h-1zM505,145.1h1V145.8h-1zM506,150.4h1V151.5h-1zM507,148.6h1V151.3h-1zM508,145.9h1V148.0h-1zM509,149.8h1V150.0h-1zM510,148.3h1V148.8h-1zM511,150.9h1V151.0h-1zM513,145.4h1V148.5h-1zM514,151.2h1V152.3h-1z" fill="#2346a2" fill-opacity="0.667"/><path d="M47,140.6h1V142.8h-1zM48,138.1h1V139.1h-1zM49,134.4h1V139.0h-1zM50,167.9h1V183.9h-1zM51,165.5h1V188.5h-1zM136,148.6h1V150.5h-1zM137,140.6h1V150.0h-1zM138,144.0h1V149.8h-1zM139,147.7h1V149.5h-1zM140,148.2h1V148.7h-1zM141,136.2h1V137.8h-1zM142,181.9h1V191.9h-1zM143,149.5h1V149.6h-1zM144,147.8h1V148.6h-1zM145,143.6h1V145.3h-1zM146,167.0h1V180.9h-1zM147,137.3h1V140.9h-1zM148,130.0h1V134.6h-1zM149,118.5h1V125.7h-1zM150,110.6h1V111.4h-1zM151,133.5h1V133.9h-1zM152,114.3h1V122.8h-1zM153,113.4h1V120.2h-1zM154,117.5h1V215.6h-1zM299,168.5h1V184.5h-1zM300,142.5h1V145.9h-1zM301,130.6h1V136.1h-1zM302,124.8h1V131.3h-1zM303,161.7h1V162.4h-1zM304,131.3h1V131.5h-1zM305,129.4h1V129.9h-1zM306,127.3h1V128.4h-1zM307,165.1h1V166.3h-1zM308,122.4h1V124.6h-1zM309,127.8h1V128.1h-1zM310,157.8h1V163.5h-1zM311,132.4h1V135.1h-1zM312,127.0h1V135.9h-1zM313,125.0h1V130.5h-1zM314,130.7h1V136.4h-1zM316,145.9h1V147.4h-1zM317,145.8h1V146.0h-1zM318,147.4h1V155.9h-1zM319,181.1h1V201.1h-1zM320,152.6h1V159.3h-1zM321,144.5h1V144.7h-1zM322,156.8h1V159.3h-1zM323,140.6h1V141.2h-1zM324,146.0h1V152.6h-1zM325,161.2h1V161.4h-1zM326,153.6h1V157.7h-1zM327,150.8h1V153.0h-1zM328,176.2h1V194.5h-1zM329,153.2h1V157.8h-1zM330,156.5h1V158.3h-1zM331,158.2h1V159.9h-1zM332,155.3h1V156.1h-1zM333,151.9h1V159.6h-1zM334,155.9h1V159.5h-1zM335,149.2h1V157.7h-1zM337,190.9h1V205.4h-1zM338,154.9h1V155.3h-1zM339,158.2h1V158.5h-1zM340,144.0h1V148.6h-1zM341,153.8h1V154.4h-1zM342,126.2h1V126.7h-1zM344,128.7h1V130.7h-1zM345,124.4h1V126.6h-1zM346,128.2h1V128.8h-1zM347,126.6h1V126.8h-1zM350,131.0h1V133.3h-1zM351,137.8h1V138.2h-1zM352,170.2h1V180.9h-1zM353,134.8h1V134.9h-1zM354,162.8h1V173.7h-1zM355,133.9h1V140.1h-1zM356,134.4h1V136.8h-1zM357,147.8h1V151.7h-1zM358,126.3h1V126.7h-1zM359,133.8h1V135.7h-1zM360,132.7h1V136.5h-1zM361,132.6h1V135.8h-1zM362,138.3h1V139.3h-1zM363,135.6h1V136.2h-1zM364,133.2h1V133.5h-1zM365,120.9h1V123.2h-1zM366,154.5h1V156.9h-1zM367,151.0h1V152.6h-1zM368,123.9h1V127.8h-1zM369,146.2h1V151.9h-1zM370,147.3h1V148.7h-1zM371,141.8h1V142.2h-1zM372,147.9h1V154.2h-1zM373,188.4h1V191.8h-1zM374,139.7h1V141.5h-1zM375,146.1h1V152.1h-1zM376,151.8h1V151.9h-1zM377,145.7h1V148.0h-1zM378,150.2h1V152.2h-1zM379,146.8h1V147.2h-1zM380,151.4h1V152.6h-1zM381,188.1h1V191.0h-1zM382,154.2h1V154.9h-1zM383,150.5h1V154.3h-1zM384,150.1h1V151.3h-1zM385,154.1h1V154.9h-1zM386,143.6h1V147.3h-1zM387,145.8h1V151.7h-1zM389,146.2h1V147.7h-1zM390,150.3h1V156.2h-1zM391,196.7h1V201.1h-1zM392,154.1h1V156.3h-1zM393,153.1h1V154.4h-1zM394,150.4h1V151.0h-1zM395,138.8h1V144.0h-1zM396,143.0h1V145.3h-1zM403,141.8h1V215.6h-1zM404,139.4h1V145.6h-1zM405,144.5h1V146.1h-1zM406,147.7h1V149.1h-1zM407,134.9h1V135.3h-1zM408,135.7h1V140.4h-1zM409,148.5h1V149.2h-1zM410,144.9h1V146.4h-1zM411,149.2h1V149.5h-1zM412,147.0h1V148.1h-1zM413,146.4h1V147.4h-1zM414,180.1h1V194.0h-1zM415,149.0h1V149.3h-1zM416,163.5h1V177.4h-1zM418,146.3h1V149.2h-1zM419,145.5h1V146.6h-1zM420,151.1h1V151.2h-1zM421,149.1h1V149.2h-1zM422,149.1h1V149.9h-1zM423,148.0h1V151.1h-1zM424,142.4h1V146.9h-1zM425,151.0h1V151.2h-1zM460,141.6h1V146.4h-1zM461,141.5h1V143.8h-1zM462,141.9h1V146.2h-1zM463,141.9h1V145.0h-1zM464,143.7h1V144.7h-1zM465,192.1h1V192.2h-1zM466,144.3h1V150.1h-1zM467,143.6h1V151.9h-1zM468,154.6h1V155.2h-1zM469,150.6h1V155.9h-1zM472,171.6h1V182.5h-1zM473,144.4h1V146.6h-1zM474,146.5h1V154.7h-1zM475,157.4h1V165.1h-1zM476,162.0h1V164.7h-1zM477,144.7h1V148.1h-1zM478,140.0h1V145.6h-1zM479,144.1h1V150.3h-1zM480,164.7h1V171.5h-1zM481,197.9h1V214.5h-1zM482,163.6h1V176.4h-1zM483,168.0h1V179.9h-1zM484,145.2h1V145.5h-1zM493,146.6h1V149.9h-1zM494,142.7h1V147.7h-1zM495,147.6h1V148.7h-1zM496,144.8h1V147.1h-1zM497,145.8h1V149.3h-1zM498,146.3h1V146.8h-1zM499,149.8h1V150.0h-1zM500,146.7h1V147.5h-1zM501,134.3h1V138.4h-1zM502,139.8h1V140.2h-1zM503,144.9h1V146.5h-1zM504,149.5h1V149.8h-1zM505,145.8h1V146.0h-1zM506,151.5h1V151.7h-1zM507,151.3h1V152.1h-1zM508,148.0h1V148.8h-1zM509,150.0h1V152.6h-1zM510,148.8h1V149.4h-1zM511,151.0h1V151.2h-1zM512,150.1h1V152.0h-1zM513,148.5h1V151.8h-1zM514,152.3h1V156.4h-1z" fill="#2346a2" fill-opacity="0.833"/><path d="M47,142.8h1V215.6h-1zM48,139.1h1V215.6h-1zM49,139.0h1V215.6h-1zM50,183.9h1V215.6h-1zM51,188.5h1V215.6h-1zM136,150.5h1V215.6h-1zM137,150.0h1V215.6h-1zM138,149.8h1V215.6h-1zM139,149.5h1V215.6h-1zM140,148.7h1V215.6h-1zM141,137.8h1V215.6h-1zM142,191.9h1V215.6h-1zM143,149.6h1V215.6h-1zM144,148.6h1V215.6h-1zM145,145.3h1V215.6h-1zM146,180.9h1V215.6h-1zM147,140.9h1V215.6h-1zM148,134.6h1V215.6h-1zM149,125.7h1V215.6h-1zM150,111.4h1V215.6h-1zM151,133.9h1V215.6h-1zM152,122.8h1V215.6h-1zM153,120.2h1V215.6h-1zM299,184.5h1V215.6h-1zM300,145.9h1V215.6h-1zM301,136.1h1V215.6h-1zM302,131.3h1V215.6h-1zM303,162.4h1V215.6h-1zM304,131.5h1V215.6h-1zM305,129.9h1V215.6h-1zM306,128.4h1V215.6h-1zM307,166.3h1V215.6h-1zM308,124.6h1V215.6h-1zM309,128.1h1V215.6h-1zM310,163.5h1V215.6h-1zM311,135.1h1V215.6h-1zM312,135.9h1V215.6h-1zM313,130.5h1V215.6h-1zM314,136.4h1V215.6h-1zM315,141.9h1V215.6h-1zM316,147.4h1V215.6h-1zM317,146.0h1V215.6h-1zM318,155.9h1V215.6h-1zM319,201.1h1V215.6h-1zM320,159.3h1V215.6h-1zM321,144.7h1V215.6h-1zM322,159.3h1V215.6h-1zM323,141.2h1V215.6h-1zM324,152.6h1V215.6h-1zM325,161.4h1V215.6h-1zM326,157.7h1V215.6h-1zM327,153.0h1V215.6h-1zM328,194.5h1V215.6h-1zM329,157.8h1V215.6h-1zM330,158.3h1V215.6h-1zM331,159.9h1V215.6h-1zM332,156.1h1V215.6h-1zM333,159.6h1V215.6h-1zM334,159.5h1V215.6h-1zM335,157.7h1V215.6h-1zM336,161.2h1V215.6h-1zM337,205.4h1V215.6h-1zM338,155.3h1V215.6h-1zM339,158.5h1V215.6h-1zM340,148.6h1V215.6h-1zM341,154.4h1V215.6h-1zM342,126.7h1V215.6h-1zM343,124.1h1V215.6h-1zM344,130.7h1V215.6h-1zM345,126.6h1V215.6h-1zM346,128.8h1V215.6h-1zM347,126.8h1V215.6h-1zM350,133.3h1V215.6h-1zM351,138.2h1V215.6h-1zM352,180.9h1V215.6h-1zM353,134.9h1V215.6h-1zM354,173.7h1V215.6h-1zM355,140.1h1V215.6h-1zM356,136.8h1V215.6h-1zM357,151.7h1V215.6h-1zM358,126.7h1V215.6h-1zM359,135.7h1V215.6h-1zM360,136.5h1V215.6h-1zM361,135.8h1V215.6h-1zM362,139.3h1V215.6h-1zM363,136.2h1V215.6h-1zM364,133.5h1V215.6h-1zM365,123.2h1V215.6h-1zM366,156.9h1V215.6h-1zM367,152.6h1V215.6h-1zM368,127.8h1V215.6h-1zM369,151.9h1V215.6h-1zM370,148.7h1V215.6h-1zM371,142.2h1V215.6h-1zM372,154.2h1V215.6h-1zM373,191.8h1V215.6h-1zM374,141.5h1V215.6h-1zM375,152.1h1V215.6h-1zM376,151.9h1V215.6h-1zM377,148.0h1V215.6h-1zM378,152.2h1V215.6h-1zM379,147.2h1V215.6h-1zM380,152.6h1V215.6h-1zM381,191.0h1V215.6h-1zM382,154.9h1V215.6h-1zM383,154.3h1V215.6h-1zM384,151.3h1V215.6h-1zM385,154.9h1V215.6h-1zM386,147.3h1V215.6h-1zM387,151.7h1V215.6h-1zM388,143.0h1V215.6h-1zM389,147.7h1V215.6h-1zM390,156.2h1V215.6h-1zM391,201.1h1V215.6h-1zM392,156.3h1V215.6h-1zM393,154.4h1V215.6h-1zM394,151.0h1V215.6h-1zM395,144.0h1V215.6h-1zM396,145.3h1V215.6h-1zM404,145.6h1V215.6h-1zM405,146.1h1V215.6h-1zM406,149.1h1V215.6h-1zM407,135.3h1V215.6h-1zM408,140.4h1V215.6h-1zM409,149.2h1V215.6h-1zM410,146.4h1V215.6h-1zM411,149.5h1V215.6h-1zM412,148.1h1V215.6h-1zM413,147.4h1V215.6h-1zM414,194.0h1V215.6h-1zM415,149.3h1V215.6h-1zM416,177.4h1V215.6h-1zM417,148.0h1V215.6h-1zM418,149.2h1V215.6h-1zM419,146.6h1V215.6h-1zM420,151.2h1V215.6h-1zM421,149.2h1V215.6h-1zM422,149.9h1V215.6h-1zM423,151.1h1V215.6h-1zM424,146.9h1V215.6h-1zM425,151.2h1V215.6h-1zM460,146.4h1V215.6h-1zM461,143.8h1V215.6h-1zM462,146.2h1V215.6h-1zM463,145.0h1V215.6h-1zM464,144.7h1V215.6h-1zM465,192.2h1V215.6h-1zM466,150.1h1V215.6h-1zM467,151.9h1V215.6h-1zM468,155.2h1V215.6h-1zM469,155.9h1V215.6h-1zM472,182.5h1V215.6h-1zM473,146.6h1V215.6h-1zM474,154.7h1V215.6h-1zM475,165.1h1V215.6h-1zM476,164.7h1V215.6h-1zM477,148.1h1V215.6h-1zM478,145.6h1V215.6h-1zM479,150.3h1V215.6h-1zM480,171.5h1V215.6h-1zM481,214.5h1V215.6h-1zM482,176.4h1V215.6h-1zM483,179.9h1V215.6h-1zM484,145.5h1V215.6h-1zM485,143.0h1V215.6h-1zM493,149.9h1V215.6h-1zM494,147.7h1V215.6h-1zM495,148.7h1V215.6h-1zM496,147.1h1V215.6h-1zM497,149.3h1V215.6h-1zM498,146.8h1V215.6h-1zM499,150.0h1V215.6h-1zM500,147.5h1V215.6h-1zM501,138.4h1V215.6h-1zM502,140.2h1V215.6h-1zM503,146.5h1V215.6h-1zM504,149.8h1V215.6h-1zM505,146.0h1V215.6h-1zM506,151.7h1V215.6h-1zM507,152.1h1V215.6h-1zM508,148.8h1V215.6h-1zM509,152.6h1V215.6h-1zM510,149.4h1V215.6h-1zM511,151.2h1V215.6h-1zM512,152.0h1V215.6h-1zM513,151.8h1V215.6h-1zM514,156.4h1V215.6h-1z" fill="#2346a2" fill-opacity="1.000"/><path d="M48.6,125.5V138 M49.3,127V138" stroke="#5a6cb8" stroke-width="0.6" fill="none"/><path d="M154.1,83.5V125 M315.1,91.5V130 M462.5,64.0V140 M514.4,116.8V150" stroke="#7c86bc" stroke-width="0.8" fill="none"/><path d="M349.2,100V215.6 M471.1,120V215.6" stroke="#fff" stroke-width="0.8" fill="none"/><path d="M392.8,140V200" stroke="#b8c0e8" stroke-width="0.6" fill="none"/></g><path d="M458,85.8 L466.6,78.5" stroke="#8a8a9a" stroke-width="2.3"/><path d="M458,85.8 L466.6,78.5" stroke="#fff" stroke-width="1.1"/><g filter="url(#bl)"><path d="M46,229.2h1V240.9h-1zM47,249.0h1V251.2h-1zM48,232.3h1V234.3h-1zM49,232.4h1V257.6h-1zM50,231.1h1V258.1h-1zM51,249.8h1V254.3h-1zM52,233.7h1V237.2h-1zM135,225.7h1V234.4h-1zM136,242.0h1V246.3h-1zM137,225.0h1V226.8h-1zM138,235.3h1V238.5h-1zM139,232.9h1V241.1h-1zM140,226.0h1V234.7h-1zM141,231.1h1V239.3h-1zM142,231.9h1V233.4h-1zM143,226.8h1V232.1h-1zM144,227.2h1V229.8h-1zM145,235.5h1V239.6h-1zM146,225.7h1V226.0h-1zM147,235.5h1V241.8h-1zM148,238.7h1V240.4h-1zM149,229.9h1V232.3h-1zM150,232.8h1V234.8h-1zM151,235.8h1V249.0h-1zM152,244.7h1V247.1h-1zM153,228.9h1V231.1h-1zM154,232.1h1V234.6h-1zM298,233.3h1V234.4h-1zM299,228.5h1V255.0h-1zM300,225.1h1V237.7h-1zM301,239.9h1V247.3h-1zM302,233.2h1V233.3h-1zM303,234.2h1V234.7h-1zM304,228.4h1V228.5h-1zM305,229.8h1V233.5h-1zM306,239.7h1V242.7h-1zM307,232.9h1V245.7h-1zM308,229.4h1V255.2h-1zM309,232.2h1V232.3h-1zM311,231.2h1V231.3h-1zM312,232.1h1V239.5h-1zM313,247.2h1V261.1h-1zM314,246.3h1V250.8h-1zM315,231.4h1V243.2h-1zM316,233.1h1V240.2h-1zM317,234.2h1V240.7h-1zM318,233.7h1V252.3h-1zM319,233.7h1V239.1h-1zM320,230.9h1V231.0h-1zM321,229.9h1V235.2h-1zM322,242.6h1V252.2h-1zM323,227.0h1V228.9h-1zM324,233.8h1V236.8h-1zM325,231.4h1V235.2h-1zM326,229.8h1V232.4h-1zM327,258.5h1V261.2h-1zM328,228.2h1V239.3h-1zM329,228.0h1V229.1h-1zM330,234.8h1V241.2h-1zM331,232.5h1V237.4h-1zM332,227.5h1V257.6h-1zM333,232.2h1V232.9h-1zM334,249.3h1V255.4h-1zM335,248.9h1V253.0h-1zM336,231.1h1V238.0h-1zM337,234.4h1V241.7h-1zM338,235.2h1V242.7h-1zM339,232.0h1V241.2h-1zM340,240.4h1V249.8h-1zM341,229.1h1V230.5h-1zM342,229.5h1V231.7h-1zM343,226.0h1V229.0h-1zM344,234.7h1V243.0h-1zM345,238.6h1V260.6h-1zM346,237.2h1V239.6h-1zM347,227.3h1V229.5h-1zM348,233.3h1V242.0h-1zM349,239.9h1V241.3h-1zM350,232.1h1V234.2h-1zM351,231.3h1V237.6h-1zM352,233.3h1V235.3h-1zM353,229.2h1V230.0h-1zM354,234.2h1V234.8h-1zM355,234.2h1V245.8h-1zM356,229.9h1V230.8h-1zM357,232.0h1V238.6h-1zM358,242.4h1V243.3h-1zM359,237.8h1V243.2h-1zM360,236.5h1V237.4h-1zM361,231.2h1V233.2h-1zM362,232.8h1V251.3h-1zM363,235.2h1V235.9h-1zM364,237.1h1V252.6h-1zM365,244.4h1V244.5h-1zM366,231.0h1V233.8h-1zM367,242.2h1V242.5h-1zM368,227.5h1V238.1h-1zM369,233.0h1V244.3h-1zM370,225.6h1V228.2h-1zM371,239.3h1V241.3h-1zM372,231.5h1V234.4h-1zM373,230.6h1V240.5h-1zM374,228.2h1V229.1h-1zM375,231.5h1V241.2h-1zM376,237.5h1V256.1h-1zM377,229.4h1V231.4h-1zM378,230.6h1V248.2h-1zM379,226.9h1V230.3h-1zM380,227.4h1V241.8h-1zM381,236.9h1V237.9h-1zM382,233.6h1V249.3h-1zM383,246.1h1V249.1h-1zM384,247.5h1V248.4h-1zM385,228.2h1V230.1h-1zM386,253.9h1V259.9h-1zM387,233.5h1V259.5h-1zM388,259.2h1V262.9h-1zM389,256.3h1V256.8h-1zM390,231.7h1V236.1h-1zM391,231.1h1V233.8h-1zM392,242.3h1V243.7h-1zM393,238.7h1V239.5h-1zM394,260.0h1V262.2h-1zM395,229.6h1V233.6h-1zM396,248.5h1V257.6h-1zM397,245.2h1V246.0h-1zM403,233.2h1V233.8h-1zM404,228.8h1V235.7h-1zM405,230.6h1V233.1h-1zM406,240.7h1V242.9h-1zM407,237.6h1V238.2h-1zM408,229.5h1V262.3h-1zM409,227.3h1V227.5h-1zM410,227.3h1V233.5h-1zM411,226.4h1V230.7h-1zM412,229.1h1V231.2h-1zM413,233.4h1V250.9h-1zM414,237.7h1V243.5h-1zM415,246.3h1V249.8h-1zM416,226.3h1V227.0h-1zM417,227.8h1V235.5h-1zM418,230.0h1V241.7h-1zM419,250.7h1V251.4h-1zM420,228.4h1V229.1h-1zM421,227.8h1V228.8h-1zM422,235.6h1V246.6h-1zM423,240.8h1V248.1h-1zM424,229.4h1V236.4h-1zM425,237.9h1V240.6h-1zM426,228.7h1V238.2h-1zM459,231.3h1V234.8h-1zM460,230.8h1V231.0h-1zM461,233.0h1V241.8h-1zM462,242.6h1V243.1h-1zM463,234.9h1V236.7h-1zM464,236.1h1V238.3h-1zM465,226.6h1V228.8h-1zM466,234.1h1V236.6h-1zM467,227.9h1V232.0h-1zM468,226.6h1V227.1h-1zM469,226.3h1V237.0h-1zM470,231.0h1V233.8h-1zM471,229.9h1V236.7h-1zM472,238.2h1V239.3h-1zM473,224.3h1V226.1h-1zM474,245.3h1V246.4h-1zM475,238.1h1V241.4h-1zM476,228.7h1V230.1h-1zM477,236.8h1V240.2h-1zM478,225.0h1V225.2h-1zM479,232.0h1V246.3h-1zM480,234.3h1V258.9h-1zM481,235.5h1V251.1h-1zM482,227.2h1V237.1h-1zM483,237.7h1V239.3h-1zM484,230.4h1V230.5h-1zM485,229.0h1V229.2h-1zM486,223.9h1V228.2h-1zM493,235.7h1V260.0h-1zM494,229.5h1V231.0h-1zM495,234.8h1V235.9h-1zM496,234.0h1V235.7h-1zM497,227.2h1V227.4h-1zM498,237.9h1V238.0h-1zM499,243.1h1V243.8h-1zM500,231.3h1V252.0h-1zM501,236.7h1V242.2h-1zM502,231.1h1V231.4h-1zM503,232.9h1V234.9h-1zM504,227.1h1V235.5h-1zM505,240.6h1V241.0h-1zM506,239.7h1V240.2h-1zM507,226.6h1V235.2h-1zM508,228.4h1V233.9h-1zM509,228.8h1V230.9h-1zM510,229.7h1V231.6h-1zM511,239.3h1V240.4h-1zM512,229.5h1V229.6h-1zM513,234.4h1V256.9h-1zM514,232.6h1V237.0h-1z" fill="#ec4a60" fill-opacity="0.125"/><path d="M46,224.9h1V229.2h-1zM47,228.5h1V249.0h-1zM48,231.5h1V232.3h-1zM49,231.3h1V232.4h-1zM50,230.8h1V231.1h-1zM51,248.6h1V249.8h-1zM52,227.6h1V233.7h-1zM135,220.0h1V225.7h-1zM136,238.9h1V242.0h-1zM137,224.9h1V225.0h-1zM138,225.5h1V235.3h-1zM139,228.4h1V232.9h-1zM140,226.0h1V226.0h-1zM141,229.2h1V231.1h-1zM142,231.7h1V231.9h-1zM143,224.6h1V226.8h-1zM145,233.0h1V235.5h-1zM146,225.6h1V225.7h-1zM147,230.1h1V235.5h-1zM148,238.6h1V238.7h-1zM149,229.3h1V229.9h-1zM150,229.1h1V232.8h-1zM151,231.9h1V235.8h-1zM152,235.0h1V244.7h-1zM153,228.2h1V228.9h-1zM154,226.9h1V232.1h-1zM298,228.4h1V233.3h-1zM299,226.7h1V228.5h-1zM300,225.1h1V225.1h-1zM301,237.4h1V239.9h-1zM302,232.7h1V233.2h-1zM303,226.5h1V234.2h-1zM304,226.5h1V228.4h-1zM305,229.0h1V229.8h-1zM306,236.9h1V239.7h-1zM307,231.6h1V232.9h-1zM308,228.7h1V229.4h-1zM309,228.6h1V232.2h-1zM310,235.7h1V242.6h-1zM311,230.7h1V231.2h-1zM312,226.8h1V232.1h-1zM313,246.6h1V247.2h-1zM314,245.5h1V246.3h-1zM315,229.3h1V231.4h-1zM316,232.2h1V233.1h-1zM317,231.0h1V234.2h-1zM318,227.5h1V233.7h-1zM319,227.4h1V233.7h-1zM320,230.6h1V230.9h-1zM321,226.5h1V229.9h-1zM322,230.9h1V242.6h-1zM323,226.6h1V227.0h-1zM324,229.4h1V233.8h-1zM325,231.3h1V231.4h-1zM326,224.2h1V229.8h-1zM327,255.1h1V258.5h-1zM328,225.0h1V228.2h-1zM329,227.1h1V228.0h-1zM330,228.0h1V234.8h-1zM331,230.7h1V232.5h-1zM332,227.1h1V227.5h-1zM333,231.3h1V232.2h-1zM334,248.7h1V249.3h-1zM335,248.3h1V248.9h-1zM336,230.7h1V231.1h-1zM337,225.1h1V234.4h-1zM338,233.0h1V235.2h-1zM339,228.2h1V232.0h-1zM340,230.9h1V240.4h-1zM341,227.9h1V229.1h-1zM342,229.2h1V229.5h-1zM343,225.7h1V226.0h-1zM344,233.2h1V234.7h-1zM345,234.1h1V238.6h-1zM346,233.4h1V237.2h-1zM347,225.1h1V227.3h-1zM348,229.9h1V233.3h-1zM349,238.7h1V239.9h-1zM350,231.6h1V232.1h-1zM351,230.6h1V231.3h-1zM352,228.9h1V233.3h-1zM353,228.9h1V229.2h-1zM354,229.6h1V234.2h-1zM355,233.8h1V234.2h-1zM356,229.6h1V229.9h-1zM357,231.7h1V232.0h-1zM358,240.4h1V242.4h-1zM359,229.4h1V237.8h-1zM360,235.6h1V236.5h-1zM361,226.4h1V231.2h-1zM362,226.0h1V232.8h-1zM363,230.6h1V235.2h-1zM364,229.0h1V237.1h-1zM365,240.5h1V244.4h-1zM366,230.9h1V231.0h-1zM367,241.7h1V242.2h-1zM369,232.4h1V233.0h-1zM370,225.5h1V225.6h-1zM372,231.3h1V231.5h-1zM373,229.5h1V230.6h-1zM374,227.7h1V228.2h-1zM375,227.2h1V231.5h-1zM376,236.1h1V237.5h-1zM377,224.6h1V229.4h-1zM378,228.3h1V230.6h-1zM379,224.5h1V226.9h-1zM380,227.2h1V227.4h-1zM381,230.0h1V236.9h-1zM382,233.3h1V233.6h-1zM383,245.5h1V246.1h-1zM384,242.5h1V247.5h-1zM385,228.2h1V228.2h-1zM386,237.2h1V253.9h-1zM387,230.6h1V233.5h-1zM388,255.0h1V259.2h-1zM389,254.5h1V256.3h-1zM390,230.4h1V231.7h-1zM391,229.7h1V231.1h-1zM392,241.5h1V242.3h-1zM393,228.3h1V238.7h-1zM394,236.3h1V260.0h-1zM395,229.1h1V229.6h-1zM396,239.5h1V248.5h-1zM397,243.8h1V245.2h-1zM403,230.9h1V233.2h-1zM404,228.4h1V228.8h-1zM405,225.5h1V230.6h-1zM406,229.7h1V240.7h-1zM407,235.0h1V237.6h-1zM408,228.3h1V229.5h-1zM409,226.3h1V227.3h-1zM410,226.8h1V227.3h-1zM412,228.9h1V229.1h-1zM413,232.4h1V233.4h-1zM414,226.4h1V237.7h-1zM415,242.6h1V246.3h-1zM416,225.7h1V226.3h-1zM417,226.6h1V227.8h-1zM418,229.8h1V230.0h-1zM419,242.8h1V250.7h-1zM420,228.2h1V228.4h-1zM421,226.3h1V227.8h-1zM422,235.4h1V235.6h-1zM423,236.5h1V240.8h-1zM424,227.3h1V229.4h-1zM425,236.3h1V237.9h-1zM426,225.8h1V228.7h-1zM459,223.7h1V231.3h-1zM460,230.4h1V230.8h-1zM461,231.3h1V233.0h-1zM462,241.9h1V242.6h-1zM463,234.7h1V234.9h-1zM464,232.4h1V236.1h-1zM465,225.8h1V226.6h-1zM466,231.3h1V234.1h-1zM467,227.5h1V227.9h-1zM468,224.9h1V226.6h-1zM469,226.2h1V226.3h-1zM470,230.7h1V231.0h-1zM471,229.6h1V229.9h-1zM472,236.9h1V238.2h-1zM475,233.6h1V238.1h-1zM476,228.3h1V228.7h-1zM477,235.7h1V236.8h-1zM479,229.9h1V232.0h-1zM480,233.0h1V234.3h-1zM481,232.4h1V235.5h-1zM482,227.0h1V227.2h-1zM483,237.2h1V237.7h-1zM484,230.3h1V230.4h-1zM485,227.0h1V229.0h-1zM486,220.0h1V223.9h-1zM493,235.1h1V235.7h-1zM494,229.4h1V229.5h-1zM495,227.4h1V234.8h-1zM496,233.7h1V234.0h-1zM497,224.3h1V227.2h-1zM498,228.2h1V237.9h-1zM499,232.2h1V243.1h-1zM500,228.8h1V231.3h-1zM501,227.4h1V236.7h-1zM502,230.9h1V231.1h-1zM503,228.1h1V232.9h-1zM504,226.7h1V227.1h-1zM505,239.0h1V240.6h-1zM506,237.7h1V239.7h-1zM507,224.8h1V226.6h-1zM508,226.4h1V228.4h-1zM509,226.6h1V228.8h-1zM510,229.4h1V229.7h-1zM511,229.4h1V239.3h-1zM513,227.9h1V234.4h-1zM514,232.4h1V232.6h-1z" fill="#ec4a60" fill-opacity="0.250"/><path d="M46,220.0h1V224.9h-1zM47,227.8h1V228.5h-1zM48,230.0h1V231.5h-1zM49,231.3h1V231.3h-1zM50,230.5h1V230.8h-1zM51,240.6h1V248.6h-1zM52,220.0h1V227.6h-1zM136,237.8h1V238.9h-1zM137,224.7h1V224.9h-1zM139,228.3h1V228.4h-1zM140,225.6h1V226.0h-1zM141,228.1h1V229.2h-1zM142,231.4h1V231.7h-1zM143,224.6h1V224.6h-1zM144,227.1h1V227.2h-1zM145,232.9h1V233.0h-1zM147,227.9h1V230.1h-1zM148,237.2h1V238.6h-1zM149,229.2h1V229.3h-1zM150,227.6h1V229.1h-1zM151,228.3h1V231.9h-1zM153,228.1h1V228.2h-1zM154,225.5h1V226.9h-1zM298,220.0h1V228.4h-1zM299,226.3h1V226.7h-1zM300,224.2h1V225.1h-1zM301,228.7h1V237.4h-1zM302,231.7h1V232.7h-1zM303,226.1h1V226.5h-1zM304,226.3h1V226.5h-1zM305,228.4h1V229.0h-1zM306,235.5h1V236.9h-1zM308,228.2h1V228.7h-1zM309,228.5h1V228.6h-1zM310,234.6h1V235.7h-1zM311,230.0h1V230.7h-1zM312,226.4h1V226.8h-1zM313,245.0h1V246.6h-1zM314,239.0h1V245.5h-1zM316,226.6h1V232.2h-1zM317,229.5h1V231.0h-1zM318,227.2h1V227.5h-1zM319,227.4h1V227.4h-1zM320,230.0h1V230.6h-1zM321,224.9h1V226.5h-1zM322,227.3h1V230.9h-1zM323,225.3h1V226.6h-1zM324,229.1h1V229.4h-1zM325,228.9h1V231.3h-1zM327,254.0h1V255.1h-1zM328,224.4h1V225.0h-1zM329,226.9h1V227.1h-1zM330,224.9h1V228.0h-1zM331,228.3h1V230.7h-1zM332,226.7h1V227.1h-1zM333,231.0h1V231.3h-1zM334,247.3h1V248.7h-1zM335,240.9h1V248.3h-1zM339,226.5h1V228.2h-1zM340,230.5h1V230.9h-1zM341,227.7h1V227.9h-1zM342,229.1h1V229.2h-1zM343,225.4h1V225.7h-1zM344,232.3h1V233.2h-1zM345,233.6h1V234.1h-1zM346,233.0h1V233.4h-1zM347,223.9h1V225.1h-1zM348,227.4h1V229.9h-1zM349,231.1h1V238.7h-1zM350,230.4h1V231.6h-1zM351,229.2h1V230.6h-1zM352,228.6h1V228.9h-1zM353,228.2h1V228.9h-1zM354,228.3h1V229.6h-1zM355,232.1h1V233.8h-1zM356,228.8h1V229.6h-1zM357,228.6h1V231.7h-1zM358,236.4h1V240.4h-1zM359,228.4h1V229.4h-1zM360,235.3h1V235.6h-1zM361,225.6h1V226.4h-1zM362,225.2h1V226.0h-1zM363,228.3h1V230.6h-1zM364,228.0h1V229.0h-1zM365,239.3h1V240.5h-1zM366,227.7h1V230.9h-1zM367,240.8h1V241.7h-1zM368,224.7h1V227.4h-1zM369,232.1h1V232.4h-1zM370,225.4h1V225.5h-1zM371,238.0h1V239.3h-1zM372,230.6h1V231.3h-1zM373,228.0h1V229.5h-1zM374,227.7h1V227.7h-1zM375,224.3h1V227.2h-1zM376,233.8h1V236.1h-1zM377,224.4h1V224.6h-1zM378,228.0h1V228.3h-1zM379,224.4h1V224.5h-1zM380,224.1h1V227.2h-1zM381,228.2h1V230.0h-1zM382,232.9h1V233.3h-1zM383,244.8h1V245.5h-1zM384,241.7h1V242.5h-1zM385,227.6h1V228.2h-1zM386,235.7h1V237.2h-1zM387,228.6h1V230.6h-1zM388,248.3h1V255.0h-1zM389,253.9h1V254.5h-1zM390,229.8h1V230.4h-1zM392,230.6h1V241.5h-1zM393,228.1h1V228.3h-1zM394,232.5h1V236.3h-1zM395,228.5h1V229.1h-1zM396,238.9h1V239.5h-1zM397,240.0h1V243.8h-1zM403,227.8h1V230.9h-1zM404,228.0h1V228.4h-1zM405,224.7h1V225.5h-1zM406,227.5h1V229.7h-1zM407,234.8h1V235.0h-1zM408,228.0h1V228.3h-1zM410,226.0h1V226.8h-1zM411,226.2h1V226.3h-1zM412,228.3h1V228.9h-1zM413,232.3h1V232.4h-1zM414,225.8h1V226.4h-1zM415,242.0h1V242.6h-1zM416,225.6h1V225.7h-1zM417,225.7h1V226.6h-1zM418,229.7h1V229.8h-1zM419,241.8h1V242.8h-1zM420,227.5h1V228.2h-1zM421,226.2h1V226.3h-1zM422,230.3h1V235.4h-1zM423,236.4h1V236.5h-1zM424,226.7h1V227.3h-1zM425,235.2h1V236.3h-1zM426,220.0h1V225.8h-1zM459,220.0h1V223.7h-1zM460,230.3h1V230.4h-1zM461,230.9h1V231.3h-1zM462,240.4h1V241.9h-1zM463,234.5h1V234.7h-1zM464,229.4h1V232.4h-1zM465,224.3h1V225.8h-1zM466,228.4h1V231.3h-1zM467,226.7h1V227.5h-1zM468,224.8h1V224.9h-1zM469,226.0h1V226.2h-1zM470,230.2h1V230.7h-1zM471,229.2h1V229.6h-1zM472,233.4h1V236.9h-1zM473,224.2h1V224.3h-1zM474,243.3h1V245.3h-1zM475,227.8h1V233.6h-1zM476,228.2h1V228.3h-1zM477,233.8h1V235.7h-1zM479,228.9h1V229.9h-1zM480,232.5h1V233.0h-1zM481,230.9h1V232.4h-1zM482,226.6h1V227.0h-1zM483,237.0h1V237.2h-1zM484,229.5h1V230.3h-1zM485,226.7h1V227.0h-1zM493,234.5h1V235.1h-1zM494,228.9h1V229.4h-1zM495,226.8h1V227.4h-1zM496,233.2h1V233.7h-1zM497,224.2h1V224.3h-1zM499,227.0h1V232.2h-1zM500,226.4h1V228.8h-1zM501,226.7h1V227.4h-1zM502,228.6h1V230.9h-1zM503,227.3h1V228.1h-1zM504,226.3h1V226.7h-1zM505,235.2h1V239.0h-1zM506,236.4h1V237.7h-1zM507,224.5h1V224.8h-1zM508,224.7h1V226.4h-1zM509,226.4h1V226.6h-1zM510,229.1h1V229.4h-1zM511,229.3h1V229.4h-1zM512,229.2h1V229.4h-1zM513,227.6h1V227.9h-1z" fill="#ec4a60" fill-opacity="0.375"/><path d="M47,224.6h1V227.8h-1zM48,228.2h1V230.0h-1zM49,230.9h1V231.3h-1zM50,230.0h1V230.5h-1zM51,230.0h1V240.6h-1zM136,237.1h1V237.8h-1zM137,224.6h1V224.7h-1zM138,225.4h1V225.5h-1zM139,225.9h1V228.3h-1zM141,227.9h1V228.1h-1zM142,229.8h1V231.4h-1zM143,224.5h1V224.6h-1zM144,226.9h1V227.1h-1zM145,232.0h1V232.9h-1zM147,227.4h1V227.9h-1zM148,237.0h1V237.2h-1zM149,227.2h1V229.2h-1zM150,226.7h1V227.6h-1zM152,232.7h1V234.9h-1zM153,227.8h1V228.1h-1zM154,224.1h1V225.5h-1zM299,226.2h1V226.3h-1zM301,226.5h1V228.7h-1zM302,231.4h1V231.7h-1zM305,226.1h1V228.4h-1zM306,228.0h1V235.5h-1zM307,230.6h1V231.6h-1zM308,228.1h1V228.2h-1zM309,227.9h1V228.5h-1zM310,231.6h1V234.6h-1zM311,229.8h1V230.0h-1zM312,225.4h1V226.4h-1zM313,240.5h1V245.0h-1zM314,233.3h1V239.0h-1zM315,228.5h1V229.2h-1zM316,225.5h1V226.6h-1zM317,229.3h1V229.5h-1zM318,226.7h1V227.2h-1zM319,226.9h1V227.4h-1zM320,229.3h1V230.0h-1zM321,224.0h1V224.9h-1zM322,225.1h1V227.3h-1zM323,225.0h1V225.3h-1zM324,225.3h1V229.1h-1zM325,228.5h1V228.9h-1zM327,251.2h1V254.0h-1zM330,224.7h1V224.9h-1zM331,228.1h1V228.3h-1zM332,225.7h1V226.7h-1zM333,230.6h1V231.0h-1zM334,240.4h1V247.3h-1zM335,240.7h1V240.9h-1zM336,229.6h1V230.7h-1zM337,224.9h1V225.1h-1zM338,231.0h1V232.9h-1zM340,230.3h1V230.5h-1zM341,227.6h1V227.7h-1zM342,228.6h1V229.1h-1zM343,225.3h1V225.4h-1zM344,230.8h1V232.3h-1zM345,232.9h1V233.6h-1zM346,232.9h1V233.0h-1zM348,227.4h1V227.4h-1zM349,228.5h1V231.1h-1zM350,228.5h1V230.4h-1zM351,228.9h1V229.2h-1zM352,227.9h1V228.6h-1zM353,228.0h1V228.2h-1zM354,225.6h1V228.3h-1zM355,229.5h1V232.1h-1zM356,228.1h1V228.8h-1zM357,227.5h1V228.6h-1zM358,236.1h1V236.4h-1zM359,228.2h1V228.4h-1zM360,234.1h1V235.3h-1zM361,225.5h1V225.6h-1zM362,223.9h1V225.2h-1zM363,227.2h1V228.3h-1zM364,227.6h1V228.0h-1zM365,234.3h1V239.3h-1zM366,227.6h1V227.7h-1zM367,230.7h1V240.8h-1zM368,224.0h1V224.7h-1zM369,229.9h1V232.1h-1zM370,225.0h1V225.4h-1zM371,237.8h1V238.0h-1zM372,229.3h1V230.6h-1zM373,225.3h1V228.0h-1zM375,224.2h1V224.3h-1zM376,232.1h1V233.8h-1zM378,227.8h1V228.0h-1zM381,228.1h1V228.2h-1zM382,230.0h1V232.9h-1zM383,244.5h1V244.8h-1zM384,240.9h1V241.7h-1zM385,227.4h1V227.6h-1zM386,235.6h1V235.7h-1zM387,228.5h1V228.6h-1zM388,247.7h1V248.3h-1zM389,249.8h1V253.9h-1zM390,228.1h1V229.8h-1zM391,224.9h1V229.7h-1zM392,229.3h1V230.6h-1zM393,227.0h1V228.1h-1zM394,232.2h1V232.5h-1zM395,228.0h1V228.5h-1zM396,238.3h1V238.9h-1zM397,231.3h1V240.0h-1zM403,227.0h1V227.8h-1zM404,227.0h1V228.0h-1zM405,224.6h1V224.7h-1zM406,226.2h1V227.5h-1zM407,233.4h1V234.8h-1zM408,227.6h1V228.0h-1zM409,226.2h1V226.3h-1zM410,225.7h1V226.0h-1zM411,226.1h1V226.2h-1zM412,226.8h1V228.3h-1zM413,230.2h1V232.3h-1zM414,225.3h1V225.8h-1zM415,239.4h1V242.0h-1zM416,225.5h1V225.6h-1zM417,225.5h1V225.7h-1zM418,227.0h1V229.7h-1zM419,241.0h1V241.8h-1zM420,227.0h1V227.5h-1zM422,225.2h1V230.3h-1zM423,230.7h1V236.4h-1zM424,226.6h1V226.7h-1zM425,233.3h1V235.2h-1zM460,228.8h1V230.3h-1zM461,228.9h1V230.9h-1zM462,229.3h1V240.4h-1zM463,233.2h1V234.5h-1zM464,227.0h1V229.4h-1zM466,228.3h1V228.4h-1zM467,226.6h1V226.7h-1zM468,224.1h1V224.8h-1zM469,225.8h1V226.0h-1zM471,229.0h1V229.2h-1zM472,227.4h1V233.4h-1zM474,239.0h1V243.3h-1zM475,226.7h1V227.8h-1zM476,228.1h1V228.2h-1zM477,230.9h1V233.8h-1zM478,224.8h1V225.0h-1zM479,228.1h1V228.9h-1zM480,230.3h1V232.5h-1zM481,228.9h1V230.9h-1zM483,234.2h1V237.0h-1zM484,229.4h1V229.5h-1zM493,228.4h1V234.5h-1zM494,226.7h1V228.9h-1zM495,226.7h1V226.8h-1zM496,232.9h1V233.2h-1zM497,224.0h1V224.2h-1zM499,226.9h1V227.0h-1zM500,224.6h1V226.4h-1zM502,228.5h1V228.6h-1zM503,227.2h1V227.3h-1zM504,225.2h1V226.3h-1zM505,234.9h1V235.2h-1zM506,235.8h1V236.4h-1zM507,223.6h1V224.5h-1zM508,224.6h1V224.7h-1zM509,223.8h1V226.4h-1zM511,228.2h1V229.3h-1zM512,229.1h1V229.2h-1zM513,227.3h1V227.6h-1zM514,225.8h1V232.4h-1z" fill="#ec4a60" fill-opacity="0.500"/><path d="M47,224.0h1V224.6h-1zM48,226.1h1V228.2h-1zM49,230.7h1V230.9h-1zM50,229.2h1V230.0h-1zM51,227.8h1V230.0h-1zM136,227.2h1V237.1h-1zM137,224.5h1V224.6h-1zM138,225.0h1V225.4h-1zM139,224.5h1V225.9h-1zM140,225.2h1V225.5h-1zM141,227.1h1V227.9h-1zM142,229.1h1V229.8h-1zM143,224.4h1V224.5h-1zM144,226.8h1V226.9h-1zM145,228.1h1V232.0h-1zM147,227.1h1V227.4h-1zM148,236.6h1V237.0h-1zM149,225.6h1V227.2h-1zM150,224.0h1V226.7h-1zM151,227.7h1V228.3h-1zM152,226.3h1V232.7h-1zM153,227.4h1V227.8h-1zM154,223.6h1V224.1h-1zM299,225.8h1V226.2h-1zM301,226.4h1V226.5h-1zM302,230.0h1V231.4h-1zM303,224.5h1V226.0h-1zM304,225.7h1V226.3h-1zM305,225.4h1V226.1h-1zM306,226.9h1V228.0h-1zM307,229.0h1V230.6h-1zM308,227.0h1V228.1h-1zM309,227.3h1V227.9h-1zM310,231.1h1V231.6h-1zM311,226.9h1V229.8h-1zM312,224.8h1V225.4h-1zM313,231.0h1V240.5h-1zM314,231.6h1V233.3h-1zM315,228.0h1V228.5h-1zM317,227.1h1V229.3h-1zM319,226.8h1V226.9h-1zM320,228.3h1V229.3h-1zM321,223.9h1V224.0h-1zM322,224.8h1V225.1h-1zM323,224.8h1V225.0h-1zM324,224.2h1V225.3h-1zM325,228.2h1V228.5h-1zM327,229.3h1V251.2h-1zM328,224.4h1V224.4h-1zM329,225.7h1V226.9h-1zM330,224.5h1V224.7h-1zM331,227.8h1V228.1h-1zM332,225.6h1V225.7h-1zM333,227.6h1V230.6h-1zM334,239.1h1V240.4h-1zM335,237.4h1V240.7h-1zM336,229.1h1V229.6h-1zM337,224.6h1V224.9h-1zM338,227.7h1V231.0h-1zM339,225.5h1V226.5h-1zM340,229.9h1V230.3h-1zM341,226.9h1V227.6h-1zM342,227.0h1V228.6h-1zM344,225.7h1V230.8h-1zM345,231.0h1V232.9h-1zM346,230.8h1V232.9h-1zM348,227.1h1V227.4h-1zM349,226.5h1V228.5h-1zM350,228.0h1V228.5h-1zM351,226.6h1V228.9h-1zM352,227.8h1V227.9h-1zM353,227.9h1V228.0h-1zM354,225.1h1V225.6h-1zM355,227.4h1V229.5h-1zM356,226.3h1V228.1h-1zM357,227.2h1V227.5h-1zM358,227.9h1V236.1h-1zM359,227.6h1V228.2h-1zM360,225.3h1V234.1h-1zM361,225.0h1V225.5h-1zM362,223.8h1V223.9h-1zM363,226.2h1V227.2h-1zM364,227.5h1V227.6h-1zM365,224.6h1V234.3h-1zM366,227.5h1V227.6h-1zM367,229.0h1V230.7h-1zM368,223.9h1V224.0h-1zM369,226.7h1V229.9h-1zM370,224.9h1V225.0h-1zM371,234.1h1V237.8h-1zM372,229.2h1V229.3h-1zM373,224.8h1V225.3h-1zM375,224.1h1V224.2h-1zM376,229.3h1V232.1h-1zM377,224.3h1V224.3h-1zM378,227.5h1V227.8h-1zM379,223.8h1V224.4h-1zM381,227.4h1V228.1h-1zM382,228.9h1V230.0h-1zM383,228.2h1V244.5h-1zM384,231.2h1V240.9h-1zM385,226.4h1V227.4h-1zM386,230.8h1V235.6h-1zM387,228.1h1V228.5h-1zM388,239.8h1V247.7h-1zM389,248.0h1V249.8h-1zM390,227.5h1V228.1h-1zM391,224.8h1V224.9h-1zM392,228.3h1V229.3h-1zM393,225.0h1V227.0h-1zM394,232.0h1V232.2h-1zM395,227.6h1V228.0h-1zM396,236.1h1V238.3h-1zM397,227.1h1V231.3h-1zM403,225.3h1V227.0h-1zM406,226.1h1V226.2h-1zM407,232.3h1V233.4h-1zM408,227.2h1V227.6h-1zM409,225.9h1V226.2h-1zM411,225.9h1V226.1h-1zM412,226.0h1V226.8h-1zM413,227.2h1V230.2h-1zM414,225.2h1V225.3h-1zM415,227.4h1V239.4h-1zM416,225.4h1V225.5h-1zM418,226.6h1V227.0h-1zM419,229.2h1V241.0h-1zM420,225.0h1V227.0h-1zM421,226.1h1V226.2h-1zM423,226.6h1V230.7h-1zM424,226.2h1V226.6h-1zM425,230.6h1V233.3h-1zM460,228.6h1V228.8h-1zM461,227.7h1V228.9h-1zM462,226.7h1V229.3h-1zM463,228.8h1V233.2h-1zM464,226.1h1V227.0h-1zM465,224.2h1V224.3h-1zM466,228.1h1V228.3h-1zM469,225.7h1V225.8h-1zM470,228.2h1V230.2h-1zM471,227.8h1V229.0h-1zM472,226.4h1V227.4h-1zM474,229.8h1V239.0h-1zM475,225.0h1V226.7h-1zM476,227.9h1V228.1h-1zM477,228.4h1V230.9h-1zM478,224.7h1V224.8h-1zM479,227.3h1V228.1h-1zM481,228.2h1V228.9h-1zM482,226.3h1V226.6h-1zM483,230.0h1V234.2h-1zM484,228.6h1V229.4h-1zM493,226.8h1V228.4h-1zM494,225.9h1V226.7h-1zM495,225.0h1V226.7h-1zM496,231.3h1V232.9h-1zM498,227.9h1V228.2h-1zM499,226.7h1V226.9h-1zM501,226.4h1V226.7h-1zM502,226.1h1V228.5h-1zM503,225.9h1V227.2h-1zM504,225.1h1V225.2h-1zM505,230.9h1V234.9h-1zM506,233.4h1V235.8h-1zM508,224.4h1V224.6h-1zM510,224.5h1V229.1h-1zM511,225.9h1V228.2h-1zM512,229.0h1V229.1h-1zM513,227.0h1V227.3h-1zM514,223.8h1V225.8h-1z" fill="#ec4a60" fill-opacity="0.625"/><path d="M47,223.9h1V224.0h-1zM48,226.0h1V226.1h-1zM49,230.1h1V230.7h-1zM50,228.0h1V229.2h-1zM51,226.7h1V227.8h-1zM136,226.1h1V227.2h-1zM137,224.4h1V224.5h-1zM138,224.8h1V225.0h-1zM140,224.9h1V225.2h-1zM141,226.3h1V227.1h-1zM142,224.0h1V229.1h-1zM143,224.3h1V224.4h-1zM144,224.9h1V226.8h-1zM145,225.1h1V228.1h-1zM146,225.4h1V225.5h-1zM148,225.2h1V236.6h-1zM149,225.1h1V225.6h-1zM151,226.9h1V227.7h-1zM152,226.1h1V226.3h-1zM153,225.2h1V227.4h-1zM154,220.0h1V223.6h-1zM299,225.7h1V225.8h-1zM301,226.1h1V226.4h-1zM302,229.6h1V230.0h-1zM303,224.1h1V224.5h-1zM304,225.4h1V225.7h-1zM306,225.1h1V226.9h-1zM307,228.4h1V229.0h-1zM308,226.7h1V227.0h-1zM309,224.3h1V227.3h-1zM310,230.9h1V231.1h-1zM311,224.2h1V226.9h-1zM312,224.2h1V224.8h-1zM313,225.7h1V231.0h-1zM314,229.2h1V231.6h-1zM315,227.6h1V228.0h-1zM316,224.1h1V225.5h-1zM318,226.2h1V226.7h-1zM319,226.0h1V226.8h-1zM320,227.5h1V228.3h-1zM322,224.1h1V224.8h-1zM323,224.7h1V224.8h-1zM324,223.8h1V224.2h-1zM325,228.0h1V228.2h-1zM326,224.0h1V224.1h-1zM327,226.9h1V229.3h-1zM328,224.3h1V224.4h-1zM329,224.1h1V225.7h-1zM331,226.0h1V227.8h-1zM332,225.0h1V225.6h-1zM333,225.7h1V227.6h-1zM334,232.2h1V239.1h-1zM335,224.3h1V237.4h-1zM336,227.1h1V229.1h-1zM337,224.4h1V224.6h-1zM338,225.5h1V227.7h-1zM339,224.3h1V225.5h-1zM340,224.9h1V229.9h-1zM341,226.5h1V226.9h-1zM342,225.3h1V227.0h-1zM343,225.1h1V225.3h-1zM344,224.9h1V225.7h-1zM345,224.3h1V231.0h-1zM346,224.6h1V230.8h-1zM348,226.9h1V227.1h-1zM349,224.6h1V226.5h-1zM350,225.5h1V228.0h-1zM352,226.7h1V227.8h-1zM353,227.8h1V227.9h-1zM355,226.3h1V227.4h-1zM356,226.0h1V226.3h-1zM357,226.7h1V227.2h-1zM358,227.8h1V227.9h-1zM359,226.8h1V227.6h-1zM360,224.3h1V225.3h-1zM361,224.4h1V225.0h-1zM363,224.6h1V226.2h-1zM364,227.1h1V227.5h-1zM366,227.1h1V227.5h-1zM367,228.0h1V229.0h-1zM369,225.3h1V226.7h-1zM370,224.8h1V224.9h-1zM371,227.9h1V234.1h-1zM372,227.0h1V229.2h-1zM373,224.7h1V224.8h-1zM374,227.4h1V227.6h-1zM375,223.8h1V224.1h-1zM376,227.4h1V229.3h-1zM377,224.1h1V224.3h-1zM378,226.0h1V227.5h-1zM379,223.7h1V223.8h-1zM381,226.8h1V227.4h-1zM382,226.4h1V228.9h-1zM383,225.2h1V228.2h-1zM384,224.8h1V231.2h-1zM385,225.5h1V226.4h-1zM386,227.1h1V230.8h-1zM387,227.7h1V228.1h-1zM388,224.6h1V239.8h-1zM389,227.3h1V248.0h-1zM390,226.6h1V227.5h-1zM391,223.8h1V224.8h-1zM392,225.9h1V228.3h-1zM393,224.1h1V225.0h-1zM394,227.4h1V232.0h-1zM395,225.7h1V227.6h-1zM396,224.9h1V236.1h-1zM397,220.0h1V227.1h-1zM403,220.0h1V225.3h-1zM404,224.4h1V227.0h-1zM406,225.8h1V226.1h-1zM407,230.7h1V232.3h-1zM408,224.0h1V227.2h-1zM409,225.1h1V225.9h-1zM410,224.9h1V225.6h-1zM411,224.7h1V225.9h-1zM413,227.1h1V227.2h-1zM414,224.6h1V225.2h-1zM415,225.9h1V227.4h-1zM416,225.1h1V225.4h-1zM417,225.5h1V225.5h-1zM418,225.3h1V226.6h-1zM419,224.5h1V229.2h-1zM420,224.1h1V225.0h-1zM421,225.8h1V226.1h-1zM422,224.6h1V225.2h-1zM423,226.3h1V226.6h-1zM424,225.7h1V226.2h-1zM425,227.7h1V230.6h-1zM460,228.0h1V228.6h-1zM461,225.0h1V227.7h-1zM462,225.7h1V226.7h-1zM463,224.3h1V228.8h-1zM464,225.2h1V226.1h-1zM465,224.0h1V224.2h-1zM466,227.8h1V228.1h-1zM467,226.4h1V226.6h-1zM468,224.0h1V224.1h-1zM469,225.4h1V225.7h-1zM470,226.2h1V228.2h-1zM471,224.9h1V227.8h-1zM472,226.3h1V226.4h-1zM473,224.1h1V224.2h-1zM474,226.9h1V229.8h-1zM475,224.8h1V225.0h-1zM476,226.6h1V227.9h-1zM477,223.8h1V228.4h-1zM478,224.6h1V224.7h-1zM479,225.2h1V227.3h-1zM480,228.0h1V230.3h-1zM481,228.1h1V228.2h-1zM482,225.8h1V226.3h-1zM483,229.1h1V230.0h-1zM484,224.7h1V228.6h-1zM485,226.6h1V226.7h-1zM493,225.5h1V226.8h-1zM494,224.4h1V225.9h-1zM495,224.2h1V225.0h-1zM496,228.2h1V231.3h-1zM498,225.1h1V227.9h-1zM499,226.5h1V226.7h-1zM500,224.3h1V224.6h-1zM501,226.0h1V226.4h-1zM502,224.8h1V226.1h-1zM503,225.5h1V225.9h-1zM504,225.1h1V225.1h-1zM505,230.0h1V230.9h-1zM506,223.7h1V233.4h-1zM508,224.3h1V224.4h-1zM510,224.1h1V224.5h-1zM511,225.4h1V225.9h-1zM512,228.5h1V229.0h-1zM514,220.0h1V223.8h-1z" fill="#ec4a60" fill-opacity="0.750"/><path d="M47,223.8h1V223.9h-1zM49,223.8h1V230.1h-1zM50,224.4h1V228.0h-1zM51,223.9h1V226.7h-1zM136,225.3h1V226.1h-1zM137,223.9h1V224.4h-1zM138,224.4h1V224.8h-1zM139,224.3h1V224.4h-1zM140,224.7h1V224.9h-1zM141,225.5h1V226.3h-1zM142,223.6h1V224.0h-1zM144,223.8h1V224.9h-1zM145,224.7h1V225.1h-1zM146,225.3h1V225.4h-1zM147,223.9h1V227.1h-1zM148,223.9h1V225.2h-1zM149,224.8h1V225.1h-1zM150,223.8h1V224.0h-1zM151,226.7h1V226.9h-1zM152,224.7h1V226.1h-1zM299,225.5h1V225.7h-1zM300,223.9h1V224.1h-1zM301,225.8h1V226.1h-1zM302,225.5h1V229.6h-1zM303,224.0h1V224.1h-1zM304,224.5h1V225.4h-1zM305,225.4h1V225.4h-1zM306,225.0h1V225.1h-1zM307,226.3h1V228.4h-1zM308,224.7h1V226.7h-1zM309,223.9h1V224.3h-1zM310,227.7h1V230.9h-1zM311,224.1h1V224.2h-1zM313,225.2h1V225.7h-1zM314,228.7h1V229.2h-1zM315,225.7h1V227.6h-1zM316,224.0h1V224.1h-1zM317,224.7h1V227.1h-1zM318,225.1h1V226.2h-1zM319,225.1h1V226.0h-1zM320,224.6h1V227.5h-1zM322,223.7h1V224.1h-1zM323,224.3h1V224.7h-1zM324,223.7h1V223.8h-1zM325,227.0h1V228.0h-1zM327,226.0h1V226.9h-1zM329,223.7h1V224.1h-1zM330,223.6h1V224.5h-1zM331,225.0h1V226.0h-1zM332,224.1h1V225.0h-1zM333,224.1h1V225.7h-1zM334,231.8h1V232.2h-1zM335,224.1h1V224.3h-1zM336,223.8h1V227.1h-1zM337,224.3h1V224.4h-1zM338,223.8h1V225.5h-1zM339,224.1h1V224.3h-1zM340,224.1h1V224.9h-1zM341,226.4h1V226.5h-1zM343,224.7h1V225.1h-1zM344,223.8h1V224.9h-1zM345,223.7h1V224.3h-1zM347,223.7h1V223.8h-1zM348,226.7h1V226.9h-1zM349,224.3h1V224.6h-1zM350,225.0h1V225.5h-1zM351,225.4h1V226.6h-1zM352,226.6h1V226.7h-1zM353,224.5h1V227.8h-1zM354,224.9h1V225.1h-1zM355,223.8h1V226.3h-1zM356,224.9h1V226.0h-1zM357,224.4h1V226.7h-1zM358,225.7h1V227.8h-1zM359,225.4h1V226.8h-1zM360,223.7h1V224.3h-1zM361,223.9h1V224.4h-1zM363,223.8h1V224.6h-1zM364,223.7h1V227.1h-1zM365,224.4h1V224.6h-1zM366,225.7h1V227.1h-1zM367,227.7h1V228.0h-1zM369,224.6h1V225.3h-1zM370,224.7h1V224.8h-1zM371,223.7h1V227.9h-1zM372,225.2h1V227.0h-1zM373,224.2h1V224.7h-1zM374,226.9h1V227.4h-1zM375,223.7h1V223.8h-1zM376,224.8h1V227.4h-1zM377,223.9h1V224.1h-1zM378,225.3h1V226.0h-1zM380,223.7h1V224.0h-1zM381,224.7h1V226.8h-1zM382,225.6h1V226.4h-1zM383,225.0h1V225.2h-1zM384,224.3h1V224.8h-1zM385,223.7h1V225.5h-1zM386,223.8h1V227.1h-1zM387,224.0h1V227.7h-1zM388,223.6h1V224.6h-1zM389,226.8h1V227.3h-1zM390,223.8h1V226.6h-1zM392,224.1h1V225.9h-1zM393,223.8h1V224.1h-1zM394,226.3h1V227.4h-1zM395,224.1h1V225.7h-1zM396,223.9h1V224.9h-1zM404,223.7h1V224.4h-1zM405,224.2h1V224.5h-1zM406,225.1h1V225.8h-1zM407,227.5h1V230.7h-1zM408,223.8h1V224.0h-1zM409,225.1h1V225.1h-1zM411,223.9h1V224.7h-1zM412,224.2h1V226.0h-1zM413,226.7h1V227.1h-1zM414,224.5h1V224.6h-1zM415,224.6h1V225.9h-1zM416,224.4h1V225.1h-1zM417,223.6h1V225.5h-1zM418,224.3h1V225.3h-1zM419,224.4h1V224.5h-1zM420,223.8h1V224.1h-1zM421,225.2h1V225.8h-1zM422,223.7h1V224.6h-1zM423,224.3h1V226.3h-1zM424,225.6h1V225.7h-1zM425,226.5h1V227.7h-1zM460,225.1h1V228.0h-1zM461,224.2h1V225.0h-1zM462,225.2h1V225.7h-1zM463,224.0h1V224.3h-1zM464,223.9h1V225.2h-1zM465,223.6h1V224.0h-1zM466,224.1h1V227.8h-1zM467,225.2h1V226.4h-1zM468,223.9h1V224.0h-1zM469,223.9h1V225.4h-1zM470,225.1h1V226.2h-1zM471,224.8h1V224.9h-1zM472,224.5h1V226.3h-1zM473,223.7h1V224.1h-1zM474,225.0h1V226.9h-1zM475,224.1h1V224.8h-1zM476,226.0h1V226.6h-1zM478,224.5h1V224.6h-1zM479,224.2h1V225.2h-1zM480,227.7h1V228.0h-1zM481,226.1h1V228.1h-1zM482,223.6h1V225.8h-1zM483,225.6h1V229.1h-1zM484,223.8h1V224.7h-1zM485,224.0h1V226.6h-1zM493,223.9h1V225.5h-1zM494,224.1h1V224.4h-1zM495,224.2h1V224.2h-1zM496,225.7h1V228.2h-1zM498,224.8h1V225.1h-1zM499,224.9h1V226.5h-1zM501,225.3h1V226.0h-1zM502,224.2h1V224.8h-1zM503,224.3h1V225.5h-1zM504,224.7h1V225.1h-1zM505,223.9h1V230.0h-1zM506,223.6h1V223.7h-1zM508,223.8h1V224.3h-1zM510,224.0h1V224.1h-1zM511,224.2h1V225.4h-1zM512,224.9h1V228.5h-1zM513,225.3h1V227.0h-1z" fill="#ec4a60" fill-opacity="0.875"/><path d="M47,220.0h1V223.8h-1zM48,220.0h1V226.0h-1zM49,220.0h1V223.8h-1zM50,220.0h1V224.4h-1zM51,220.0h1V223.9h-1zM136,220.0h1V225.3h-1zM137,220.0h1V223.9h-1zM138,220.0h1V224.4h-1zM139,220.0h1V224.3h-1zM140,220.0h1V224.7h-1zM141,220.0h1V225.5h-1zM142,220.0h1V223.6h-1zM143,220.0h1V224.3h-1zM144,220.0h1V223.8h-1zM145,220.0h1V224.7h-1zM146,220.0h1V225.3h-1zM147,220.0h1V223.9h-1zM148,220.0h1V223.9h-1zM149,220.0h1V224.8h-1zM150,220.0h1V223.8h-1zM151,220.0h1V226.7h-1zM152,220.0h1V224.7h-1zM153,220.0h1V225.1h-1zM299,220.0h1V225.5h-1zM300,220.0h1V223.9h-1zM301,220.0h1V225.8h-1zM302,220.0h1V225.5h-1zM303,220.0h1V224.0h-1zM304,220.0h1V224.5h-1zM305,220.0h1V225.4h-1zM306,220.0h1V225.0h-1zM307,220.0h1V226.3h-1zM308,220.0h1V224.7h-1zM309,220.0h1V223.9h-1zM310,220.0h1V227.7h-1zM311,220.0h1V224.1h-1zM312,220.0h1V224.1h-1zM313,220.0h1V225.2h-1zM314,220.0h1V228.7h-1zM315,220.0h1V225.7h-1zM316,220.0h1V224.0h-1zM317,220.0h1V224.7h-1zM318,220.0h1V225.1h-1zM319,220.0h1V225.1h-1zM320,220.0h1V224.6h-1zM321,220.0h1V223.8h-1zM322,220.0h1V223.7h-1zM323,220.0h1V224.3h-1zM324,220.0h1V223.7h-1zM325,220.0h1V227.0h-1zM326,220.0h1V224.0h-1zM327,220.0h1V226.0h-1zM328,220.0h1V224.3h-1zM329,220.0h1V223.7h-1zM330,220.0h1V223.6h-1zM331,220.0h1V225.0h-1zM332,220.0h1V224.1h-1zM333,220.0h1V224.1h-1zM334,220.0h1V231.8h-1zM335,220.0h1V224.1h-1zM336,220.0h1V223.8h-1zM337,220.0h1V224.3h-1zM338,220.0h1V223.8h-1zM339,220.0h1V224.1h-1zM340,220.0h1V224.1h-1zM341,220.0h1V226.4h-1zM342,220.0h1V225.3h-1zM343,220.0h1V224.7h-1zM344,220.0h1V223.8h-1zM345,220.0h1V223.7h-1zM346,220.0h1V224.6h-1zM347,220.0h1V223.7h-1zM348,220.0h1V226.7h-1zM349,220.0h1V224.3h-1zM350,220.0h1V225.0h-1zM351,220.0h1V225.4h-1zM352,220.0h1V226.6h-1zM353,220.0h1V224.5h-1zM354,220.0h1V224.9h-1zM355,220.0h1V223.8h-1zM356,220.0h1V224.9h-1zM357,220.0h1V224.4h-1zM358,220.0h1V225.7h-1zM359,220.0h1V225.4h-1zM360,220.0h1V223.7h-1zM361,220.0h1V223.9h-1zM362,220.0h1V223.8h-1zM363,220.0h1V223.8h-1zM364,220.0h1V223.7h-1zM365,220.0h1V224.4h-1zM366,220.0h1V225.7h-1zM367,220.0h1V227.7h-1zM368,220.0h1V223.9h-1zM369,220.0h1V224.6h-1zM370,220.0h1V224.7h-1zM371,220.0h1V223.7h-1zM372,220.0h1V225.2h-1zM373,220.0h1V224.2h-1zM374,220.0h1V226.9h-1zM375,220.0h1V223.7h-1zM376,220.0h1V224.8h-1zM377,220.0h1V223.9h-1zM378,220.0h1V225.3h-1zM379,220.0h1V223.7h-1zM380,220.0h1V223.7h-1zM381,220.0h1V224.7h-1zM382,220.0h1V225.6h-1zM383,220.0h1V225.0h-1zM384,220.0h1V224.3h-1zM385,220.0h1V223.7h-1zM386,220.0h1V223.8h-1zM387,220.0h1V224.0h-1zM388,220.0h1V223.6h-1zM389,220.0h1V226.8h-1zM390,220.0h1V223.8h-1zM391,220.0h1V223.7h-1zM392,220.0h1V224.1h-1zM393,220.0h1V223.8h-1zM394,220.0h1V226.3h-1zM395,220.0h1V224.1h-1zM396,220.0h1V223.9h-1zM404,220.0h1V223.7h-1zM405,220.0h1V224.2h-1zM406,220.0h1V225.1h-1zM407,220.0h1V227.5h-1zM408,220.0h1V223.8h-1zM409,220.0h1V225.1h-1zM410,220.0h1V224.9h-1zM411,220.0h1V223.9h-1zM412,220.0h1V224.2h-1zM413,220.0h1V226.7h-1zM414,220.0h1V224.5h-1zM415,220.0h1V224.6h-1zM416,220.0h1V224.4h-1zM417,220.0h1V223.6h-1zM418,220.0h1V224.3h-1zM419,220.0h1V224.4h-1zM420,220.0h1V223.8h-1zM421,220.0h1V225.2h-1zM422,220.0h1V223.7h-1zM423,220.0h1V224.3h-1zM424,220.0h1V225.6h-1zM425,220.0h1V226.5h-1zM460,220.0h1V225.1h-1zM461,220.0h1V224.2h-1zM462,220.0h1V225.2h-1zM463,220.0h1V224.0h-1zM464,220.0h1V223.9h-1zM465,220.0h1V223.6h-1zM466,220.0h1V224.1h-1zM467,220.0h1V225.2h-1zM468,220.0h1V223.9h-1zM469,220.0h1V223.9h-1zM470,220.0h1V225.1h-1zM471,220.0h1V224.8h-1zM472,220.0h1V224.5h-1zM473,220.0h1V223.7h-1zM474,220.0h1V225.0h-1zM475,220.0h1V224.1h-1zM476,220.0h1V226.0h-1zM477,220.0h1V223.7h-1zM478,220.0h1V224.5h-1zM479,220.0h1V224.2h-1zM480,220.0h1V227.7h-1zM481,220.0h1V226.1h-1zM482,220.0h1V223.6h-1zM483,220.0h1V225.6h-1zM484,220.0h1V223.8h-1zM485,220.0h1V224.0h-1zM493,220.0h1V223.9h-1zM494,220.0h1V224.1h-1zM495,220.0h1V224.2h-1zM496,220.0h1V225.7h-1zM497,220.0h1V224.0h-1zM498,220.0h1V224.8h-1zM499,220.0h1V224.9h-1zM500,220.0h1V224.3h-1zM501,220.0h1V225.3h-1zM502,220.0h1V224.2h-1zM503,220.0h1V224.3h-1zM504,220.0h1V224.7h-1zM505,220.0h1V223.9h-1zM506,220.0h1V223.6h-1zM507,220.0h1V223.6h-1zM508,220.0h1V223.8h-1zM509,220.0h1V223.7h-1zM510,220.0h1V224.0h-1zM511,220.0h1V224.2h-1zM512,220.0h1V224.9h-1zM513,220.0h1V225.3h-1z" fill="#ec4a60" fill-opacity="1.000"/></g><path d="M324.3,230V270 M140.8,240V264.5" stroke="#f08890" stroke-width="0.5" fill="none"/><path d="M349.2,218V260 M471.1,218V260" stroke="#fff" stroke-width="0.8" fill="none"/><line x1="46.3" y1="278.3" x2="46.3" y2="281.3" stroke="#777" stroke-width="0.6"/><text transform="translate(47.80,283.3) rotate(-90)" font-size="4.35" text-anchor="end" fill="#222" stroke="#222" stroke-width="0.1">2649009</text><line x1="52.4" y1="278.3" x2="52.4" y2="281.3" stroke="#777" stroke-width="0.6"/><text transform="translate(53.90,283.3) rotate(-90)" font-size="4.35" text-anchor="end" fill="#222" stroke="#222" stroke-width="0.1">2917724</text><line x1="135.7" y1="278.3" x2="135.7" y2="281.3" stroke="#777" stroke-width="0.6"/><text transform="translate(137.20,283.3) rotate(-90)" font-size="4.35" text-anchor="end" fill="#222" stroke="#222" stroke-width="0.1">6816754</text><line x1="154.2" y1="278.3" x2="154.2" y2="281.3" stroke="#777" stroke-width="0.6"/><text transform="translate(155.70,283.3) rotate(-90)" font-size="4.35" text-anchor="end" fill="#222" stroke="#222" stroke-width="0.1">7470225</text><line x1="298.5" y1="278.3" x2="298.5" y2="281.3" stroke="#777" stroke-width="0.6"/><text transform="translate(300.00,283.3) rotate(-90)" font-size="4.35" text-anchor="end" fill="#222" stroke="#222" stroke-width="0.1">13870437</text><line x1="347" y1="278.3" x2="347" y2="281.3" stroke="#777" stroke-width="0.6"/><text transform="translate(348.50,283.3) rotate(-90)" font-size="4.35" text-anchor="end" fill="#222" stroke="#222" stroke-width="0.1">14007265</text><line x1="350.6" y1="278.3" x2="350.6" y2="281.3" stroke="#777" stroke-width="0.6"/><text transform="translate(352.10,283.3) rotate(-90)" font-size="4.35" text-anchor="end" fill="#222" stroke="#222" stroke-width="0.1">16178274</text><line x1="389.2" y1="278.3" x2="389.2" y2="281.3" stroke="#777" stroke-width="0.6"/><text transform="translate(390.70,283.3) rotate(-90)" font-size="4.35" text-anchor="end" fill="#222" stroke="#222" stroke-width="0.1">16372274</text><line x1="397" y1="278.3" x2="397" y2="281.3" stroke="#777" stroke-width="0.6"/><text transform="translate(398.50,283.3) rotate(-90)" font-size="4.35" text-anchor="end" fill="#222" stroke="#222" stroke-width="0.1">16817644</text><line x1="402.3" y1="278.3" x2="402.3" y2="281.3" stroke="#777" stroke-width="0.6"/><text transform="translate(403.80,283.3) rotate(-90)" font-size="4.35" text-anchor="end" fill="#222" stroke="#222" stroke-width="0.1">17022827</text><line x1="426.7" y1="278.3" x2="426.7" y2="281.3" stroke="#777" stroke-width="0.6"/><text transform="translate(428.20,283.3) rotate(-90)" font-size="4.35" text-anchor="end" fill="#222" stroke="#222" stroke-width="0.1">18667207</text><line x1="459.4" y1="278.3" x2="459.4" y2="281.3" stroke="#777" stroke-width="0.6"/><text transform="translate(460.90,283.3) rotate(-90)" font-size="4.35" text-anchor="end" fill="#222" stroke="#222" stroke-width="0.1">21032220</text><line x1="485.8" y1="278.3" x2="485.8" y2="281.3" stroke="#777" stroke-width="0.6"/><text transform="translate(487.30,283.3) rotate(-90)" font-size="4.35" text-anchor="end" fill="#222" stroke="#222" stroke-width="0.1">22218159</text><line x1="492" y1="278.3" x2="492" y2="281.3" stroke="#777" stroke-width="0.6"/><text transform="translate(493.50,283.3) rotate(-90)" font-size="4.35" text-anchor="end" fill="#222" stroke="#222" stroke-width="0.1">22513319</text><line x1="514.4" y1="278.3" x2="514.4" y2="281.3" stroke="#777" stroke-width="0.6"/><text transform="translate(515.90,283.3) rotate(-90)" font-size="4.35" text-anchor="end" fill="#222" stroke="#222" stroke-width="0.1">23487633</text></g></svg></body></html>
